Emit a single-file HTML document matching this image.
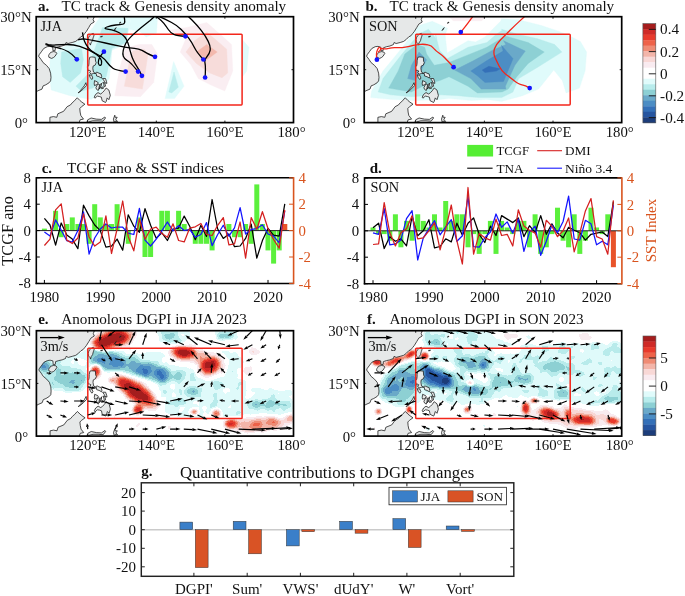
<!DOCTYPE html><html><head><meta charset="utf-8"><title>figure</title>
<style>html,body{margin:0;padding:0;background:#fff}svg{display:block}text{font-family:"Liberation Serif",serif}</style></head><body>
<svg width="685" height="596" viewBox="0 0 685 596">
<g opacity="0.999"><rect width="685" height="596" fill="#fff"/>
<defs>
<filter id="Fe" filterUnits="userSpaceOnUse" x="0" y="300" width="685" height="170" color-interpolation-filters="sRGB"><feGaussianBlur in="SourceGraphic" stdDeviation="1.5" result="b"/><feTurbulence type="fractalNoise" baseFrequency="0.09" numOctaves="2" seed="4" result="n"/><feColorMatrix in="n" type="matrix" values="1 0 0 0 0 1 0 0 0 0 1 0 0 0 0 0 0 0 0 1" result="ng"/><feComposite in="b" in2="ng" operator="arithmetic" k1="0" k2="1" k3="0.17" k4="-0.085" result="s"/><feComponentTransfer in="s"><feFuncR type="discrete" tableValues="0.110 0.149 0.204 0.298 0.416 0.553 0.722 0.878 1.000 1.000 0.976 0.973 0.953 0.937 0.933 0.910 0.812 0.647"/><feFuncG type="discrete" tableValues="0.239 0.333 0.439 0.553 0.663 0.816 0.925 0.984 1.000 1.000 0.922 0.847 0.710 0.549 0.384 0.227 0.165 0.114"/><feFuncB type="discrete" tableValues="0.478 0.627 0.722 0.769 0.788 0.831 0.925 0.984 1.000 1.000 0.941 0.839 0.663 0.459 0.286 0.173 0.153 0.114"/><feFuncA type="linear" slope="0" intercept="1"/></feComponentTransfer></filter>
<filter id="Ff" filterUnits="userSpaceOnUse" x="0" y="300" width="685" height="170" color-interpolation-filters="sRGB"><feGaussianBlur in="SourceGraphic" stdDeviation="1.5" result="b"/><feTurbulence type="fractalNoise" baseFrequency="0.09" numOctaves="2" seed="11" result="n"/><feColorMatrix in="n" type="matrix" values="1 0 0 0 0 1 0 0 0 0 1 0 0 0 0 0 0 0 0 1" result="ng"/><feComposite in="b" in2="ng" operator="arithmetic" k1="0" k2="1" k3="0.17" k4="-0.085" result="s"/><feComponentTransfer in="s"><feFuncR type="discrete" tableValues="0.110 0.149 0.204 0.298 0.416 0.553 0.722 0.878 1.000 1.000 0.976 0.973 0.953 0.937 0.933 0.910 0.812 0.647"/><feFuncG type="discrete" tableValues="0.239 0.333 0.439 0.553 0.663 0.816 0.925 0.984 1.000 1.000 0.922 0.847 0.710 0.549 0.384 0.227 0.165 0.114"/><feFuncB type="discrete" tableValues="0.478 0.627 0.722 0.769 0.788 0.831 0.925 0.984 1.000 1.000 0.941 0.839 0.663 0.459 0.286 0.173 0.153 0.114"/><feFuncA type="linear" slope="0" intercept="1"/></feComponentTransfer></filter>
<radialGradient id="gw"><stop offset="0" stop-color="#fff" stop-opacity="1"/><stop offset="0.5" stop-color="#fff" stop-opacity="0.78"/><stop offset="0.8" stop-color="#fff" stop-opacity="0.32"/><stop offset="1" stop-color="#fff" stop-opacity="0"/></radialGradient>
<radialGradient id="gk"><stop offset="0" stop-color="#000" stop-opacity="1"/><stop offset="0.5" stop-color="#000" stop-opacity="0.78"/><stop offset="0.8" stop-color="#000" stop-opacity="0.32"/><stop offset="1" stop-color="#000" stop-opacity="0"/></radialGradient>
<radialGradient id="gg"><stop offset="0" stop-color="#808080" stop-opacity="1"/><stop offset="0.5" stop-color="#808080" stop-opacity="0.78"/><stop offset="0.8" stop-color="#808080" stop-opacity="0.32"/><stop offset="1" stop-color="#808080" stop-opacity="0"/></radialGradient>
</defs>
<clipPath id="clipa"><rect x="36.2" y="16.7" width="257.3" height="105.9"/></clipPath>
<g clip-path="url(#clipa)">
<path d="M99.6 17.5 L130.9 17.5 L129.0 29.3 L125.2 44.5 L111.9 50.2 L111.0 63.4 L109.1 78.6 L100.5 93.8 L91.0 99.5 L70.2 95.7 L51.2 90.0 L49.3 72.9 L50.2 57.8 L60.7 48.3 L83.4 38.8 L92.9 27.4Z" fill="#e0fbfb" stroke="#e0fbfb" stroke-width="0.4" stroke-linejoin="round"/>
<path d="M130.9 17.5 L157.5 17.5 L156.5 33.1 L146.1 36.9 L139.4 31.2 L129.0 29.3Z" fill="#e0fbfb" stroke="#e0fbfb" stroke-width="0.4" stroke-linejoin="round"/>
<path d="M61.6 52.1 L81.5 48.3 L83.4 59.7 L80.6 72.9 L70.2 82.4 L62.6 76.7 L60.7 63.4Z" fill="#b8ecec" stroke="#b8ecec" stroke-width="0.4" stroke-linejoin="round"/>
<path d="M102.4 27.4 L128.0 28.3 L126.1 42.6 L111.9 48.3 L109.1 63.4 L106.2 76.7 L92.9 88.1 L81.5 91.0 L75.9 86.2 L89.1 72.9 L92.9 54.0 L98.6 38.8Z" fill="#b8ecec" stroke="#b8ecec" stroke-width="0.4" stroke-linejoin="round"/>
<path d="M114.8 95.7 L119.5 69.1 L125.2 48.3 L138.5 44.5 L151.8 44.5 L157.5 54.0 L153.7 82.4 L140.4 96.7Z" fill="#faeef2" stroke="#faeef2" stroke-width="0.4" stroke-linejoin="round"/>
<path d="M124.3 86.2 L129.0 63.4 L132.8 51.1 L144.2 49.2 L148.0 54.0 L145.1 72.9 L142.3 89.1Z" fill="#f7dcda" stroke="#f7dcda" stroke-width="0.4" stroke-linejoin="round"/>
<path d="M165.1 98.6 L173.6 61.5 L184.0 86.2 L174.5 98.6Z" fill="#e0fbfb" stroke="#e0fbfb" stroke-width="0.4" stroke-linejoin="round"/>
<path d="M168.8 91.9 L174.0 72.0 L178.3 87.2 L171.7 92.9Z" fill="#b8ecec" stroke="#b8ecec" stroke-width="0.4" stroke-linejoin="round"/>
<path d="M169.8 30.2 L186.9 27.4 L206.8 22.6 L221.0 35.0 L231.5 44.5 L232.8 71.0 L224.8 91.0 L211.5 85.3 L198.3 78.6 L190.7 64.4 L180.2 52.1 L185.9 38.8Z" fill="#faeef2" stroke="#faeef2" stroke-width="0.4" stroke-linejoin="round"/>
<path d="M185.9 52.1 L194.5 40.7 L206.8 32.1 L226.7 49.2 L227.7 72.9 L222.0 77.7 L209.7 72.9 L196.4 63.4Z" fill="#f7dcda" stroke="#f7dcda" stroke-width="0.4" stroke-linejoin="round"/>
<path d="M196.4 52.1 L206.8 44.5 L217.2 52.1 L206.8 59.7Z" fill="#f3b9ad" stroke="#f3b9ad" stroke-width="0.4" stroke-linejoin="round"/>
<path d="M242.5 39.7 L248.9 47.3 L246.7 71.0 L242.5 76.7Z" fill="#e0fbfb" stroke="#e0fbfb" stroke-width="0.4" stroke-linejoin="round"/>
<path d="M19.0 9.6 L95.2 9.6 L94.2 13.5 L90.7 15.6 L94.2 17.1 L93.1 19.5 L94.2 22.0 L90.7 24.1 L88.7 27.6 L86.3 31.5 L84.6 33.6 L82.9 35.8 L80.8 36.8 L78.4 39.3 L75.7 41.4 L72.2 42.5 L68.1 43.5 L66.0 42.5 L65.4 44.6 L61.9 46.0 L58.5 46.7 L55.4 47.8 L55.1 50.6 L53.0 50.9 L52.7 47.1 L49.9 46.4 L47.2 46.7 L43.7 48.5 L41.7 51.3 L39.3 54.5 L38.6 56.2 L41.0 59.4 L43.1 62.6 L46.5 65.4 L49.2 68.6 L50.6 73.2 L51.0 77.4 L50.6 80.9 L49.2 82.7 L45.8 84.8 L43.1 85.9 L42.0 89.1 L37.9 90.8 L35.5 92.2 L35.9 89.1 L36.2 86.6 L34.5 85.9 L19.0 85.5Z" fill="#e6e8e8" stroke="#151515" stroke-width="0.75" stroke-linejoin="round"/>
<path d="M48.9 54.8 L50.6 52.4 L53.4 51.6 L55.8 52.0 L56.8 53.4 L55.1 56.2 L53.4 57.6 L51.6 58.4 L48.9 57.3 L48.6 55.5Z" fill="#e6e8e8" stroke="#151515" stroke-width="0.75" stroke-linejoin="round"/>
<path d="M91.1 34.3 L93.1 33.3 L94.2 34.3 L93.8 36.1 L93.1 37.9 L92.5 40.7 L91.1 42.8 L90.4 45.1 L89.7 43.5 L88.3 42.1 L88.0 39.6 L88.7 37.2 L90.1 35.4Z" fill="#e6e8e8" stroke="#151515" stroke-width="0.75" stroke-linejoin="round"/>
<path d="M89.7 57.3 L91.8 56.9 L95.2 57.3 L95.6 61.2 L96.2 62.6 L95.2 65.1 L93.1 66.1 L92.8 68.6 L93.5 72.1 L95.2 73.2 L96.9 72.1 L99.0 73.2 L101.0 73.9 L101.7 76.7 L101.4 78.1 L99.0 76.7 L96.6 76.0 L96.2 73.5 L93.5 73.5 L91.1 74.2 L89.7 72.5 L90.7 71.1 L89.4 70.4 L88.0 70.4 L87.3 66.8 L88.7 65.8 L89.0 62.9 L89.0 60.8Z" fill="#e6e8e8" stroke="#151515" stroke-width="0.75" stroke-linejoin="round"/>
<path d="M89.0 74.9 L91.8 75.3 L92.8 78.1 L91.8 79.5 L90.4 77.8Z" fill="#e6e8e8" stroke="#151515" stroke-width="0.75" stroke-linejoin="round"/>
<path d="M102.4 78.5 L105.5 78.5 L106.5 81.7 L106.9 83.4 L104.8 82.7 L104.1 80.9Z" fill="#e6e8e8" stroke="#151515" stroke-width="0.75" stroke-linejoin="round"/>
<path d="M102.8 82.4 L104.8 83.1 L105.5 86.2 L104.1 86.9 L103.8 84.5Z" fill="#e6e8e8" stroke="#151515" stroke-width="0.75" stroke-linejoin="round"/>
<path d="M94.5 80.6 L97.6 82.0 L98.3 83.1 L96.6 84.8 L94.5 85.5 L94.2 83.8Z" fill="#e6e8e8" stroke="#151515" stroke-width="0.75" stroke-linejoin="round"/>
<path d="M97.6 84.1 L99.7 84.5 L99.0 87.7 L98.3 90.5 L96.6 89.4 L95.9 87.7Z" fill="#e6e8e8" stroke="#151515" stroke-width="0.75" stroke-linejoin="round"/>
<path d="M101.4 83.1 L101.4 85.5 L99.3 89.1 L100.0 85.9Z" fill="#e6e8e8" stroke="#151515" stroke-width="0.75" stroke-linejoin="round"/>
<path d="M100.7 87.7 L103.1 86.9 L103.4 88.4 L101.4 88.7Z" fill="#e6e8e8" stroke="#151515" stroke-width="0.75" stroke-linejoin="round"/>
<path d="M78.1 92.9 L80.8 90.1 L84.2 85.9 L85.9 82.7 L86.6 85.5 L83.5 88.7 L80.1 91.9Z" fill="#e6e8e8" stroke="#151515" stroke-width="0.75" stroke-linejoin="round"/>
<path d="M106.2 88.0 L108.9 90.1 L110.3 95.4 L108.9 99.7 L107.2 97.9 L106.2 101.4 L105.5 102.5 L102.1 100.7 L101.4 97.2 L99.3 96.5 L97.3 96.1 L94.9 98.2 L94.2 97.2 L95.6 94.4 L98.0 92.6 L100.7 94.0 L102.4 92.6 L104.1 90.8Z" fill="#e6e8e8" stroke="#151515" stroke-width="0.75" stroke-linejoin="round"/>
<path d="M77.4 97.9 L79.8 100.4 L81.8 102.1 L84.9 104.2 L81.5 106.7 L79.8 108.5 L80.1 112.0 L80.8 115.5 L83.5 119.1 L80.1 119.8 L79.1 122.6 L79.1 129.7 L49.9 129.7 L49.9 122.6 L49.9 117.3 L53.4 116.6 L56.8 117.3 L57.8 113.8 L63.6 111.3 L67.1 106.7 L70.5 104.9 L72.2 102.8 L74.6 100.7 L76.7 98.2Z" fill="#e6e8e8" stroke="#151515" stroke-width="0.75" stroke-linejoin="round"/>
<path d="M87.7 119.8 L91.1 118.0 L96.2 119.1 L101.4 119.4 L104.8 117.0 L105.5 118.0 L103.1 121.2 L98.0 120.8 L92.8 120.8 L88.7 121.9 L87.7 129.7 L86.3 129.7 L87.0 121.9Z" fill="#e6e8e8" stroke="#151515" stroke-width="0.75" stroke-linejoin="round"/>
<path d="M113.4 119.1 L114.8 115.2 L115.1 117.3 L117.2 117.3 L115.8 119.4 L117.5 121.5 L114.8 121.2 L114.8 124.4 L113.7 120.8Z" fill="#e6e8e8" stroke="#151515" stroke-width="0.75" stroke-linejoin="round"/>
<path d="M114.1 30.5 L115.1 29.4 L116.1 27.6 L115.1 28.7Z" fill="#e6e8e8" stroke="#151515" stroke-width="0.75" stroke-linejoin="round"/>
<path d="M119.2 23.1 L120.9 22.0 L120.3 23.1Z" fill="#e6e8e8" stroke="#151515" stroke-width="0.75" stroke-linejoin="round"/>
<path d="M100.4 36.8 L102.4 36.1 L102.1 36.8Z" fill="#e6e8e8" stroke="#151515" stroke-width="0.75" stroke-linejoin="round"/>
<path d="M19.0 99.7 L26.9 100.7 L30.7 105.7 L31.1 112.0 L33.5 117.3 L32.8 118.4 L19.0 118.4Z" fill="#e6e8e8" stroke="#151515" stroke-width="0.75" stroke-linejoin="round"/>
<path d="M19.0 119.1 L25.9 119.1 L31.1 121.5 L32.8 125.4 L34.5 129.7 L19.0 129.7Z" fill="#e6e8e8" stroke="#151515" stroke-width="0.75" stroke-linejoin="round"/>
</g>
<rect x="87.7" y="34.3" width="154.4" height="70.6" fill="none" stroke="#f3261b" stroke-width="1.5" rx="0.8"/>
<g clip-path="url(#clipa)">
<path d="M76.8 59.3 Q72.1 54.0 68.3 51.8 Q64.5 49.6 60.7 48.5 Q56.9 47.5 54.0 46.9 Q51.2 46.4 48.3 45.4 L45.5 44.5" fill="none" stroke="#000" stroke-width="1.3" stroke-linejoin="round"/>
<path d="M103.9 51.7 Q99.6 56.8 98.6 60.1 Q97.7 63.4 99.1 64.9 Q100.5 66.3 101.5 63.9 Q102.4 61.5 100.5 58.7 Q98.6 55.9 95.8 54.0 Q92.9 52.1 89.1 50.2 Q85.3 48.3 79.7 46.4 Q74.0 44.5 67.3 44.5 Q60.7 44.5 55.9 44.9 Q51.2 45.4 48.3 44.6 L45.5 43.7" fill="none" stroke="#000" stroke-width="1.3" stroke-linejoin="round"/>
<path d="M125.6 71.6 Q115.7 70.1 112.9 68.2 Q110.0 66.3 107.2 62.5 Q104.3 58.7 101.5 56.8 Q98.6 54.9 94.8 53.0 Q91.0 51.1 88.4 47.8 Q85.7 44.5 84.6 41.6 Q83.4 38.8 83.0 35.5 L82.5 32.3" fill="none" stroke="#000" stroke-width="1.3" stroke-linejoin="round"/>
<path d="M155.0 56.8 Q148.0 54.0 145.1 52.1 Q142.3 50.2 138.5 49.2 Q134.7 48.3 129.9 47.8 Q125.2 47.3 118.6 45.9 Q111.9 44.5 105.3 43.0 Q98.6 41.6 93.9 40.7 Q89.1 39.7 85.3 39.2 Q81.5 38.8 79.8 39.3 L78.1 39.9" fill="none" stroke="#000" stroke-width="1.3" stroke-linejoin="round"/>
<path d="M138.1 71.6 Q133.7 66.3 131.4 63.9 Q129.0 61.5 126.6 60.1 Q124.3 58.7 123.3 56.3 Q122.4 54.0 123.3 50.2 Q124.3 46.4 125.7 43.5 Q127.1 40.7 131.8 35.9 Q136.6 31.2 141.3 27.4 Q146.1 23.6 150.1 20.4 L154.0 17.1" fill="none" stroke="#000" stroke-width="1.3" stroke-linejoin="round"/>
<path d="M141.9 75.8 Q139.4 70.1 137.1 66.8 Q134.7 63.4 133.3 60.1 Q131.8 56.8 130.9 53.5 Q129.9 50.2 129.0 46.4 Q128.0 42.6 126.6 39.7 Q125.2 36.9 122.4 34.8 Q119.5 32.7 115.7 31.2 Q111.9 29.7 107.4 29.1 Q102.8 28.5 106.9 27.0 Q111.0 25.5 115.7 25.0 Q120.5 24.5 122.8 24.1 Q125.2 23.6 124.7 20.4 L124.3 17.1" fill="none" stroke="#000" stroke-width="1.3" stroke-linejoin="round"/>
<path d="M185.4 36.3 Q177.1 35.9 173.8 34.4 Q170.5 32.8 168.3 29.5 Q166.1 26.3 163.9 23.4 Q161.7 20.6 158.5 18.2 L155.2 15.8" fill="none" stroke="#000" stroke-width="1.3" stroke-linejoin="round"/>
<path d="M203.4 59.5 Q196.8 52.5 194.4 47.5 Q192.0 42.5 188.7 38.1 Q185.4 33.7 181.2 29.5 Q177.1 25.4 171.6 22.5 Q166.1 19.7 161.7 17.7 L157.4 15.8" fill="none" stroke="#000" stroke-width="1.3" stroke-linejoin="round"/>
<path d="M205.1 77.5 Q205.8 66.6 205.0 63.0 Q204.2 59.5 206.9 56.7 Q209.5 53.9 210.1 50.3 Q210.8 46.8 208.2 41.4 Q205.5 35.9 201.2 30.4 Q196.8 24.9 192.2 20.3 L187.6 15.8" fill="none" stroke="#000" stroke-width="1.3" stroke-linejoin="round"/>
<circle cx="76.8" cy="59.3" r="2.35" fill="#1414ff"/>
<circle cx="103.9" cy="51.7" r="2.35" fill="#1414ff"/>
<circle cx="125.6" cy="71.6" r="2.35" fill="#1414ff"/>
<circle cx="138.1" cy="71.6" r="2.35" fill="#1414ff"/>
<circle cx="141.9" cy="75.8" r="2.35" fill="#1414ff"/>
<circle cx="155.0" cy="56.8" r="2.35" fill="#1414ff"/>
<circle cx="185.4" cy="36.3" r="2.35" fill="#1414ff"/>
<circle cx="203.4" cy="59.5" r="2.35" fill="#1414ff"/>
<circle cx="205.1" cy="77.5" r="2.35" fill="#1414ff"/>
</g>
<rect x="36.2" y="16.7" width="257.3" height="105.9" fill="none" stroke="#000" stroke-width="1.7"/>
<path d="M87.7 122.6 v-2 M87.7 16.7 v2" stroke="#000" stroke-width="0.9"/>
<path d="M156.3 122.6 v-2 M156.3 16.7 v2" stroke="#000" stroke-width="0.9"/>
<path d="M224.9 122.6 v-2 M224.9 16.7 v2" stroke="#000" stroke-width="0.9"/>
<path d="M36.2 69.7 h2 M293.5 69.7 h-2" stroke="#000" stroke-width="0.9"/>
<text x="87.7" y="136.9" font-size="14.8" text-anchor="middle" fill="#111" >120°E</text>
<text x="156.3" y="136.9" font-size="14.8" text-anchor="middle" fill="#111" >140°E</text>
<text x="224.9" y="136.9" font-size="14.8" text-anchor="middle" fill="#111" >160°E</text>
<text x="291.5" y="136.9" font-size="14.8" text-anchor="middle" fill="#111" >180°</text>
<text x="31.6" y="22.2" font-size="14.8" text-anchor="end" fill="#111" >30°N</text>
<text x="31.6" y="75.2" font-size="14.8" text-anchor="end" fill="#111" >15°N</text>
<text x="28.0" y="128.1" font-size="14.8" text-anchor="end" fill="#111" >0°</text>
<clipPath id="clipb"><rect x="364.2" y="16.7" width="257.5" height="105.9"/></clipPath>
<g clip-path="url(#clipb)">
<path d="M370.6 97.6 L371.6 91.0 L383.0 71.0 L400.1 50.2 L419.0 25.5 L432.3 21.3 L447.5 28.3 L445.2 35.0 L447.1 53.0 L468.0 40.7 L475.5 42.0 L485.0 36.9 L493.6 28.3 L500.6 21.3 L501.6 18.8 L518.7 19.8 L541.4 25.5 L558.5 31.2 L569.9 35.9 L580.4 41.6 L586.6 52.1 L585.1 71.0 L579.4 88.1 L566.1 92.9 L562.3 80.5 L553.8 70.1 L538.6 89.1 L522.5 95.7 L501.6 101.4 L486.9 99.5 L471.8 100.5 L449.0 98.6 L439.9 99.5 L415.2 100.5 L392.5 99.5Z" fill="#e0fbfb" stroke="#e0fbfb" stroke-width="0.4" stroke-linejoin="round"/>
<path d="M378.2 91.9 L383.0 78.6 L402.0 54.0 L419.0 34.0 L428.5 29.3 L436.1 38.8 L435.7 35.0 L439.5 50.2 L447.1 58.7 L468.0 47.3 L486.9 42.6 L495.5 35.0 L502.1 30.2 L501.6 29.3 L516.8 34.0 L537.7 38.8 L554.7 44.5 L561.9 52.1 L537.7 67.2 L518.7 78.6 L513.0 91.9 L501.6 97.6 L479.3 97.6 L468.0 96.7 L458.9 95.7 L439.9 94.8 L411.4 96.7 L390.6 94.8Z" fill="#b8ecec" stroke="#b8ecec" stroke-width="0.4" stroke-linejoin="round"/>
<path d="M388.7 88.1 L398.2 71.0 L404.8 54.0 L417.1 44.5 L424.7 47.3 L426.6 54.0 L434.2 65.3 L449.0 62.5 L468.0 54.9 L486.9 47.3 L501.2 38.4 L505.4 35.9 L528.2 42.6 L544.3 52.1 L528.2 63.4 L516.8 76.7 L508.2 89.1 L502.1 91.9 L477.4 92.9 L468.0 86.2 L449.0 76.7 L439.9 80.5 L426.6 84.3 L411.4 91.9Z" fill="#8dd0d4" stroke="#8dd0d4" stroke-width="0.4" stroke-linejoin="round"/>
<path d="M407.7 78.6 L411.4 65.3 L419.0 52.1 L426.6 59.7 L420.9 71.0 L415.2 80.5Z" fill="#6aa9c9" stroke="#6aa9c9" stroke-width="0.4" stroke-linejoin="round"/>
<path d="M454.7 70.1 L473.7 60.6 L492.6 50.2 L505.9 44.5 L503.5 40.7 L525.3 51.1 L514.9 65.3 L505.4 86.2 L505.9 89.1 L481.2 89.1 L470.8 78.6Z" fill="#6aa9c9" stroke="#6aa9c9" stroke-width="0.4" stroke-linejoin="round"/>
<path d="M470.8 71.0 L486.9 60.6 L503.1 51.1 L501.6 45.4 L513.0 58.7 L503.5 81.5 L485.0 82.4 L477.4 75.8Z" fill="#4c8dc4" stroke="#4c8dc4" stroke-width="0.4" stroke-linejoin="round"/>
<path d="M482.2 70.1 L488.8 66.3 L500.2 68.8 L496.4 71.0 L485.0 72.6Z" fill="#3470b8" stroke="#3470b8" stroke-width="0.4" stroke-linejoin="round"/>
<path d="M449.4 17.1 L485.5 17.1 L481.7 20.7 L453.2 20.7Z" fill="#faeef2" stroke="#faeef2" stroke-width="0.4" stroke-linejoin="round"/>
<path d="M347.0 9.6 L423.3 9.6 L422.2 13.5 L418.8 15.6 L422.2 17.1 L421.2 19.5 L422.2 22.0 L418.8 24.1 L416.7 27.6 L414.3 31.5 L412.6 33.6 L410.9 35.8 L408.8 36.8 L406.4 39.3 L403.7 41.4 L400.2 42.5 L396.1 43.5 L394.1 42.5 L393.4 44.6 L389.9 46.0 L386.5 46.7 L383.4 47.8 L383.1 50.6 L381.0 50.9 L380.7 47.1 L377.9 46.4 L375.2 46.7 L371.8 48.5 L369.7 51.3 L367.3 54.5 L366.6 56.2 L369.0 59.4 L371.1 62.6 L374.5 65.4 L377.2 68.6 L378.6 73.2 L379.0 77.4 L378.6 80.9 L377.2 82.7 L373.8 84.8 L371.1 85.9 L370.0 89.1 L365.9 90.8 L363.5 92.2 L363.9 89.1 L364.2 86.6 L362.5 85.9 L347.0 85.5Z" fill="#e6e8e8" stroke="#151515" stroke-width="0.75" stroke-linejoin="round"/>
<path d="M376.9 54.8 L378.6 52.4 L381.4 51.6 L383.8 52.0 L384.8 53.4 L383.1 56.2 L381.4 57.6 L379.6 58.4 L376.9 57.3 L376.6 55.5Z" fill="#e6e8e8" stroke="#151515" stroke-width="0.75" stroke-linejoin="round"/>
<path d="M419.1 34.3 L421.2 33.3 L422.2 34.3 L421.9 36.1 L421.2 37.9 L420.5 40.7 L419.1 42.8 L418.4 45.1 L417.8 43.5 L416.4 42.1 L416.0 39.6 L416.7 37.2 L418.1 35.4Z" fill="#e6e8e8" stroke="#151515" stroke-width="0.75" stroke-linejoin="round"/>
<path d="M417.8 57.3 L419.8 56.9 L423.3 57.3 L423.6 61.2 L424.3 62.6 L423.3 65.1 L421.2 66.1 L420.9 68.6 L421.5 72.1 L423.3 73.2 L425.0 72.1 L427.0 73.2 L429.1 73.9 L429.8 76.7 L429.4 78.1 L427.0 76.7 L424.6 76.0 L424.3 73.5 L421.5 73.5 L419.1 74.2 L417.8 72.5 L418.8 71.1 L417.4 70.4 L416.0 70.4 L415.4 66.8 L416.7 65.8 L417.1 62.9 L417.1 60.8Z" fill="#e6e8e8" stroke="#151515" stroke-width="0.75" stroke-linejoin="round"/>
<path d="M417.1 74.9 L419.8 75.3 L420.9 78.1 L419.8 79.5 L418.4 77.8Z" fill="#e6e8e8" stroke="#151515" stroke-width="0.75" stroke-linejoin="round"/>
<path d="M430.5 78.5 L433.6 78.5 L434.6 81.7 L434.9 83.4 L432.9 82.7 L432.2 80.9Z" fill="#e6e8e8" stroke="#151515" stroke-width="0.75" stroke-linejoin="round"/>
<path d="M430.8 82.4 L432.9 83.1 L433.6 86.2 L432.2 86.9 L431.8 84.5Z" fill="#e6e8e8" stroke="#151515" stroke-width="0.75" stroke-linejoin="round"/>
<path d="M422.6 80.6 L425.7 82.0 L426.3 83.1 L424.6 84.8 L422.6 85.5 L422.2 83.8Z" fill="#e6e8e8" stroke="#151515" stroke-width="0.75" stroke-linejoin="round"/>
<path d="M425.7 84.1 L427.7 84.5 L427.0 87.7 L426.3 90.5 L424.6 89.4 L423.9 87.7Z" fill="#e6e8e8" stroke="#151515" stroke-width="0.75" stroke-linejoin="round"/>
<path d="M429.4 83.1 L429.4 85.5 L427.4 89.1 L428.1 85.9Z" fill="#e6e8e8" stroke="#151515" stroke-width="0.75" stroke-linejoin="round"/>
<path d="M428.7 87.7 L431.1 86.9 L431.5 88.4 L429.4 88.7Z" fill="#e6e8e8" stroke="#151515" stroke-width="0.75" stroke-linejoin="round"/>
<path d="M406.1 92.9 L408.8 90.1 L412.3 85.9 L414.0 82.7 L414.7 85.5 L411.6 88.7 L408.1 91.9Z" fill="#e6e8e8" stroke="#151515" stroke-width="0.75" stroke-linejoin="round"/>
<path d="M434.2 88.0 L437.0 90.1 L438.4 95.4 L437.0 99.7 L435.3 97.9 L434.2 101.4 L433.6 102.5 L430.1 100.7 L429.4 97.2 L427.4 96.5 L425.3 96.1 L422.9 98.2 L422.2 97.2 L423.6 94.4 L426.0 92.6 L428.7 94.0 L430.5 92.6 L432.2 90.8Z" fill="#e6e8e8" stroke="#151515" stroke-width="0.75" stroke-linejoin="round"/>
<path d="M405.4 97.9 L407.8 100.4 L409.9 102.1 L413.0 104.2 L409.5 106.7 L407.8 108.5 L408.1 112.0 L408.8 115.5 L411.6 119.1 L408.1 119.8 L407.1 122.6 L407.1 129.7 L377.9 129.7 L377.9 122.6 L377.9 117.3 L381.4 116.6 L384.8 117.3 L385.8 113.8 L391.7 111.3 L395.1 106.7 L398.5 104.9 L400.2 102.8 L402.7 100.7 L404.7 98.2Z" fill="#e6e8e8" stroke="#151515" stroke-width="0.75" stroke-linejoin="round"/>
<path d="M415.7 119.8 L419.1 118.0 L424.3 119.1 L429.4 119.4 L432.9 117.0 L433.6 118.0 L431.1 121.2 L426.0 120.8 L420.9 120.8 L416.7 121.9 L415.7 129.7 L414.3 129.7 L415.0 121.9Z" fill="#e6e8e8" stroke="#151515" stroke-width="0.75" stroke-linejoin="round"/>
<path d="M441.5 119.1 L442.8 115.2 L443.2 117.3 L445.2 117.3 L443.9 119.4 L445.6 121.5 L442.8 121.2 L442.8 124.4 L441.8 120.8Z" fill="#e6e8e8" stroke="#151515" stroke-width="0.75" stroke-linejoin="round"/>
<path d="M442.1 30.5 L443.2 29.4 L444.2 27.6 L443.2 28.7Z" fill="#e6e8e8" stroke="#151515" stroke-width="0.75" stroke-linejoin="round"/>
<path d="M447.3 23.1 L449.0 22.0 L448.3 23.1Z" fill="#e6e8e8" stroke="#151515" stroke-width="0.75" stroke-linejoin="round"/>
<path d="M428.4 36.8 L430.5 36.1 L430.1 36.8Z" fill="#e6e8e8" stroke="#151515" stroke-width="0.75" stroke-linejoin="round"/>
<path d="M347.0 99.7 L354.9 100.7 L358.7 105.7 L359.1 112.0 L361.5 117.3 L360.8 118.4 L347.0 118.4Z" fill="#e6e8e8" stroke="#151515" stroke-width="0.75" stroke-linejoin="round"/>
<path d="M347.0 119.1 L353.9 119.1 L359.1 121.5 L360.8 125.4 L362.5 129.7 L347.0 129.7Z" fill="#e6e8e8" stroke="#151515" stroke-width="0.75" stroke-linejoin="round"/>
</g>
<rect x="415.7" y="34.3" width="154.5" height="70.6" fill="none" stroke="#f3261b" stroke-width="1.5" rx="0.8"/>
<g clip-path="url(#clipb)">
<path d="M376.9 59.7 Q375.8 53.0 377.5 49.7 Q379.2 46.4 380.3 47.8 Q381.5 49.2 379.8 50.6 L378.2 52.1" fill="none" stroke="#f3261b" stroke-width="1.3" stroke-linejoin="round"/>
<path d="M453.6 67.2 Q447.5 60.6 444.7 57.8 Q441.8 54.9 439.0 53.0 Q436.1 51.1 433.7 48.3 Q431.4 45.4 428.1 44.8 Q424.7 44.1 420.9 44.3 Q417.1 44.5 413.3 45.4 Q409.5 46.4 405.3 47.1 Q401.0 47.9 396.7 47.6 Q392.5 47.3 388.7 48.3 Q384.9 49.2 382.8 48.7 L380.7 48.3" fill="none" stroke="#f3261b" stroke-width="1.3" stroke-linejoin="round"/>
<path d="M460.8 32.1 Q465.5 26.4 467.9 23.1 Q470.3 19.8 471.4 18.3 L472.6 16.8" fill="none" stroke="#f3261b" stroke-width="1.3" stroke-linejoin="round"/>
<path d="M529.7 88.1 Q525.3 85.3 522.0 84.8 Q518.7 84.3 513.9 80.5 Q509.2 76.7 505.4 73.9 Q501.6 71.0 499.2 66.3 Q496.8 61.5 494.9 57.3 Q493.1 53.0 494.5 48.7 Q495.9 44.5 500.6 39.7 Q505.4 35.0 510.1 30.2 Q514.9 25.5 519.6 21.1 L524.4 16.8" fill="none" stroke="#f3261b" stroke-width="1.3" stroke-linejoin="round"/>
<circle cx="376.9" cy="59.7" r="2.35" fill="#1414ff"/>
<circle cx="453.6" cy="67.2" r="2.35" fill="#1414ff"/>
<circle cx="460.8" cy="32.1" r="2.35" fill="#1414ff"/>
<circle cx="529.7" cy="88.1" r="2.35" fill="#1414ff"/>
</g>
<rect x="364.2" y="16.7" width="257.5" height="105.9" fill="none" stroke="#000" stroke-width="1.7"/>
<path d="M415.7 122.6 v-2 M415.7 16.7 v2" stroke="#000" stroke-width="0.9"/>
<path d="M484.4 122.6 v-2 M484.4 16.7 v2" stroke="#000" stroke-width="0.9"/>
<path d="M553.0 122.6 v-2 M553.0 16.7 v2" stroke="#000" stroke-width="0.9"/>
<path d="M364.2 69.7 h2 M621.7 69.7 h-2" stroke="#000" stroke-width="0.9"/>
<text x="415.7" y="136.9" font-size="14.8" text-anchor="middle" fill="#111" >120°E</text>
<text x="484.4" y="136.9" font-size="14.8" text-anchor="middle" fill="#111" >140°E</text>
<text x="553.0" y="136.9" font-size="14.8" text-anchor="middle" fill="#111" >160°E</text>
<text x="619.7" y="136.9" font-size="14.8" text-anchor="middle" fill="#111" >180°</text>
<text x="359.6" y="22.2" font-size="14.8" text-anchor="end" fill="#111" >30°N</text>
<text x="359.6" y="75.2" font-size="14.8" text-anchor="end" fill="#111" >15°N</text>
<text x="356.0" y="128.1" font-size="14.8" text-anchor="end" fill="#111" >0°</text>
<clipPath id="clipe"><rect x="36.4" y="330.7" width="257.1" height="105.4"/></clipPath>
<g clip-path="url(#clipe)">
<g filter="url(#Fe)">
<rect x="6.399999999999999" y="300.7" width="317.1" height="165.4" fill="#808080"/>
<path d="M36.4 357.8 L53.5 359.5 L74.1 355.3 L87.8 347.6 L101.5 350.0 L122.1 351.1 L142.7 353.5 L159.8 351.8 L176.9 358.8 L190.7 364.1 L197.5 376.4 L211.2 379.9 L224.9 374.6 L228.4 358.8 L218.1 350.0 L235.2 350.0 L242.1 358.8 L245.5 386.9 L266.1 388.7 L293.5 390.4 L293.5 413.3 L266.1 415.0 L242.1 415.0 L224.9 418.5 L200.9 418.5 L176.9 416.8 L163.2 411.5 L166.7 401.0 L159.8 386.9 L146.1 378.1 L132.4 372.9 L118.7 369.3 L105.0 371.1 L96.4 364.1 L87.8 374.6 L81.0 390.4 L67.3 393.9 L53.5 390.4 L43.3 381.6 L36.4 372.9Z" fill="rgb(106,106,106)"/>
<path d="M156.4 327.2 L158.1 341.2 L173.5 346.5 L187.2 341.2 L192.4 327.2Z" fill="rgb(105,105,105)"/>
<path d="M212.9 327.2 L218.1 337.7 L231.8 339.5 L238.7 327.2Z" fill="rgb(102,102,102)"/>
<ellipse cx="266.1" cy="404.5" rx="27.4" ry="6.0" transform="rotate(0 266.1 404.5)" fill="url(#gk)" opacity="0.289"/>
<ellipse cx="192.4" cy="390.4" rx="8.9" ry="6.3" transform="rotate(0 192.4 390.4)" fill="url(#gk)" opacity="0.289"/>
<ellipse cx="176.9" cy="402.7" rx="17.1" ry="4.2" transform="rotate(0 176.9 402.7)" fill="url(#gk)" opacity="0.244"/>
<ellipse cx="224.9" cy="336.0" rx="10.3" ry="5.3" transform="rotate(0 224.9 336.0)" fill="url(#gk)" opacity="0.267"/>
<ellipse cx="170.1" cy="336.0" rx="12.0" ry="7.0" transform="rotate(0 170.1 336.0)" fill="url(#gk)" opacity="0.267"/>
<ellipse cx="44.3" cy="365.8" rx="8.9" ry="7.7" transform="rotate(0 44.3 365.8)" fill="url(#gk)" opacity="0.556"/>
<ellipse cx="63.8" cy="378.1" rx="24.0" ry="14.8" transform="rotate(10 63.8 378.1)" fill="url(#gk)" opacity="0.267"/>
<ellipse cx="81.0" cy="381.6" rx="13.7" ry="13.4" transform="rotate(0 81.0 381.6)" fill="url(#gk)" opacity="0.200"/>
<ellipse cx="106.7" cy="360.6" rx="22.3" ry="13.4" transform="rotate(20 106.7 360.6)" fill="url(#gk)" opacity="0.489"/>
<ellipse cx="130.7" cy="366.5" rx="24.0" ry="12.6" transform="rotate(10 130.7 366.5)" fill="url(#gk)" opacity="0.422"/>
<ellipse cx="150.6" cy="371.5" rx="17.1" ry="11.9" transform="rotate(10 150.6 371.5)" fill="url(#gk)" opacity="0.489"/>
<ellipse cx="163.2" cy="375.3" rx="8.9" ry="9.8" transform="rotate(0 163.2 375.3)" fill="url(#gk)" opacity="0.600"/>
<ellipse cx="176.9" cy="376.4" rx="10.3" ry="7.0" transform="rotate(0 176.9 376.4)" fill="url(#gk)" opacity="0.289"/>
<ellipse cx="132.4" cy="392.2" rx="37.7" ry="15.8" transform="rotate(33 132.4 392.2)" fill="url(#gg)" opacity="1.000"/>
<ellipse cx="190.7" cy="358.8" rx="24.0" ry="12.3" transform="rotate(0 190.7 358.8)" fill="url(#gg)" opacity="1.000"/>
<ellipse cx="111.8" cy="401.0" rx="27.4" ry="14.1" transform="rotate(0 111.8 401.0)" fill="url(#gg)" opacity="1.000"/>
<ellipse cx="183.8" cy="353.5" rx="22.3" ry="11.9" transform="rotate(0 183.8 353.5)" fill="url(#gw)" opacity="0.244"/>
<ellipse cx="210.5" cy="365.8" rx="19.9" ry="15.5" transform="rotate(-10 210.5 365.8)" fill="url(#gw)" opacity="0.244"/>
<ellipse cx="202.7" cy="358.8" rx="22.3" ry="9.8" transform="rotate(25 202.7 358.8)" fill="url(#gw)" opacity="0.356"/>
<ellipse cx="113.5" cy="338.8" rx="25.7" ry="11.9" transform="rotate(-12 113.5 338.8)" fill="url(#gw)" opacity="1.000"/>
<ellipse cx="115.2" cy="337.7" rx="13.7" ry="6.3" transform="rotate(-12 115.2 337.7)" fill="url(#gw)" opacity="0.889"/>
<ellipse cx="102.2" cy="343.7" rx="11.0" ry="7.7" transform="rotate(0 102.2 343.7)" fill="url(#gw)" opacity="0.889"/>
<ellipse cx="95.7" cy="371.1" rx="6.5" ry="8.4" transform="rotate(0 95.7 371.1)" fill="url(#gw)" opacity="0.889"/>
<ellipse cx="136.5" cy="392.2" rx="30.2" ry="11.9" transform="rotate(35 136.5 392.2)" fill="url(#gw)" opacity="1.000"/>
<ellipse cx="137.9" cy="393.2" rx="17.1" ry="5.6" transform="rotate(35 137.9 393.2)" fill="url(#gw)" opacity="0.889"/>
<ellipse cx="112.2" cy="380.2" rx="4.5" ry="3.5" transform="rotate(0 112.2 380.2)" fill="url(#gw)" opacity="0.556"/>
<ellipse cx="123.8" cy="382.7" rx="10.3" ry="6.3" transform="rotate(30 123.8 382.7)" fill="url(#gw)" opacity="0.667"/>
<ellipse cx="137.9" cy="409.4" rx="6.5" ry="6.0" transform="rotate(0 137.9 409.4)" fill="url(#gw)" opacity="1.000"/>
<ellipse cx="183.8" cy="352.8" rx="15.1" ry="7.7" transform="rotate(5 183.8 352.8)" fill="url(#gw)" opacity="1.000"/>
<ellipse cx="210.5" cy="365.8" rx="12.3" ry="9.8" transform="rotate(-20 210.5 365.8)" fill="url(#gw)" opacity="1.000"/>
<ellipse cx="194.1" cy="411.9" rx="5.1" ry="4.2" transform="rotate(0 194.1 411.9)" fill="url(#gw)" opacity="0.778"/>
<ellipse cx="216.4" cy="413.3" rx="5.8" ry="6.0" transform="rotate(0 216.4 413.3)" fill="url(#gw)" opacity="0.667"/>
<ellipse cx="231.1" cy="423.5" rx="8.9" ry="6.0" transform="rotate(0 231.1 423.5)" fill="url(#gw)" opacity="0.833"/>
<ellipse cx="259.2" cy="424.2" rx="41.1" ry="9.1" transform="rotate(-4 259.2 424.2)" fill="url(#gw)" opacity="0.489"/>
<ellipse cx="258.1" cy="423.7" rx="6.9" ry="4.2" transform="rotate(0 258.1 423.7)" fill="url(#gw)" opacity="0.222"/>
<ellipse cx="274.4" cy="422.1" rx="6.9" ry="4.2" transform="rotate(0 274.4 422.1)" fill="url(#gw)" opacity="0.222"/>
<ellipse cx="290.8" cy="418.4" rx="5.1" ry="4.2" transform="rotate(0 290.8 418.4)" fill="url(#gw)" opacity="0.444"/>
<ellipse cx="257.5" cy="352.5" rx="12.0" ry="5.6" transform="rotate(0 257.5 352.5)" fill="url(#gw)" opacity="0.156"/>
<ellipse cx="248.9" cy="372.9" rx="13.7" ry="10.5" transform="rotate(0 248.9 372.9)" fill="url(#gw)" opacity="0.133"/>
</g>
<path d="M19.3 323.7 L95.4 323.7 L94.3 327.5 L90.9 329.6 L94.3 331.1 L93.3 333.5 L94.3 336.0 L90.9 338.1 L88.8 341.6 L86.4 345.5 L84.7 347.6 L83.0 349.7 L81.0 350.7 L78.6 353.2 L75.8 355.3 L72.4 356.3 L68.3 357.4 L66.2 356.3 L65.5 358.5 L62.1 359.9 L58.7 360.6 L55.6 361.6 L55.3 364.4 L53.2 364.8 L52.9 360.9 L50.1 360.2 L47.4 360.6 L43.9 362.3 L41.9 365.1 L39.5 368.3 L38.8 370.0 L41.2 373.2 L43.3 376.4 L46.7 379.2 L49.4 382.3 L50.8 386.9 L51.1 391.1 L50.8 394.6 L49.4 396.4 L46.0 398.5 L43.3 399.6 L42.2 402.7 L38.1 404.5 L35.7 405.9 L36.1 402.7 L36.4 400.3 L34.7 399.6 L19.3 399.2Z" fill="#e6e8e8" stroke="#151515" stroke-width="0.75" stroke-linejoin="round"/>
<path d="M49.1 368.6 L50.8 366.2 L53.5 365.5 L55.9 365.8 L57.0 367.2 L55.3 370.0 L53.5 371.5 L51.8 372.2 L49.1 371.1 L48.7 369.3Z" fill="#e6e8e8" stroke="#151515" stroke-width="0.75" stroke-linejoin="round"/>
<path d="M91.2 348.3 L93.3 347.2 L94.3 348.3 L94.0 350.0 L93.3 351.8 L92.6 354.6 L91.2 356.7 L90.6 359.0 L89.9 357.4 L88.5 356.0 L88.2 353.5 L88.8 351.1 L90.2 349.3Z" fill="#e6e8e8" stroke="#151515" stroke-width="0.75" stroke-linejoin="round"/>
<path d="M89.9 371.1 L91.9 370.8 L95.4 371.1 L95.7 375.0 L96.4 376.4 L95.4 378.8 L93.3 379.9 L93.0 382.3 L93.6 385.9 L95.4 386.9 L97.1 385.9 L99.1 386.9 L101.2 387.6 L101.9 390.4 L101.5 391.8 L99.1 390.4 L96.7 389.7 L96.4 387.3 L93.6 387.3 L91.2 388.0 L89.9 386.2 L90.9 384.8 L89.5 384.1 L88.2 384.1 L87.5 380.6 L88.8 379.5 L89.2 376.7 L89.2 374.6Z" fill="#e6e8e8" stroke="#151515" stroke-width="0.75" stroke-linejoin="round"/>
<path d="M89.2 388.7 L91.9 389.0 L93.0 391.8 L91.9 393.2 L90.6 391.5Z" fill="#e6e8e8" stroke="#151515" stroke-width="0.75" stroke-linejoin="round"/>
<path d="M102.6 392.2 L105.6 392.2 L106.7 395.3 L107.0 397.1 L105.0 396.4 L104.3 394.6Z" fill="#e6e8e8" stroke="#151515" stroke-width="0.75" stroke-linejoin="round"/>
<path d="M102.9 396.0 L105.0 396.8 L105.6 399.9 L104.3 400.6 L103.9 398.2Z" fill="#e6e8e8" stroke="#151515" stroke-width="0.75" stroke-linejoin="round"/>
<path d="M94.7 394.3 L97.8 395.7 L98.4 396.8 L96.7 398.5 L94.7 399.2 L94.3 397.5Z" fill="#e6e8e8" stroke="#151515" stroke-width="0.75" stroke-linejoin="round"/>
<path d="M97.8 397.8 L99.8 398.2 L99.1 401.3 L98.4 404.1 L96.7 403.1 L96.0 401.3Z" fill="#e6e8e8" stroke="#151515" stroke-width="0.75" stroke-linejoin="round"/>
<path d="M101.5 396.8 L101.5 399.2 L99.5 402.7 L100.2 399.6Z" fill="#e6e8e8" stroke="#151515" stroke-width="0.75" stroke-linejoin="round"/>
<path d="M100.8 401.3 L103.2 400.6 L103.6 402.0 L101.5 402.4Z" fill="#e6e8e8" stroke="#151515" stroke-width="0.75" stroke-linejoin="round"/>
<path d="M78.2 406.6 L81.0 403.8 L84.4 399.6 L86.1 396.4 L86.8 399.2 L83.7 402.4 L80.3 405.5Z" fill="#e6e8e8" stroke="#151515" stroke-width="0.75" stroke-linejoin="round"/>
<path d="M106.3 401.7 L109.1 403.8 L110.4 409.0 L109.1 413.3 L107.4 411.5 L106.3 415.0 L105.6 416.1 L102.2 414.3 L101.5 410.8 L99.5 410.1 L97.4 409.8 L95.0 411.9 L94.3 410.8 L95.7 408.0 L98.1 406.2 L100.8 407.6 L102.6 406.2 L104.3 404.5Z" fill="#e6e8e8" stroke="#151515" stroke-width="0.75" stroke-linejoin="round"/>
<path d="M77.5 411.5 L79.9 414.0 L82.0 415.7 L85.1 417.8 L81.6 420.3 L79.9 422.0 L80.3 425.6 L81.0 429.1 L83.7 432.6 L80.3 433.3 L79.2 436.1 L79.2 443.1 L50.1 443.1 L50.1 436.1 L50.1 430.8 L53.5 430.1 L57.0 430.8 L58.0 427.3 L63.8 424.9 L67.3 420.3 L70.7 418.5 L72.4 416.4 L74.8 414.3 L76.9 411.9Z" fill="#e6e8e8" stroke="#151515" stroke-width="0.75" stroke-linejoin="round"/>
<path d="M87.8 433.3 L91.2 431.5 L96.4 432.6 L101.5 432.9 L105.0 430.5 L105.6 431.5 L103.2 434.7 L98.1 434.3 L93.0 434.3 L88.8 435.4 L87.8 443.1 L86.4 443.1 L87.1 435.4Z" fill="#e6e8e8" stroke="#151515" stroke-width="0.75" stroke-linejoin="round"/>
<path d="M113.5 432.6 L114.9 428.7 L115.2 430.8 L117.3 430.8 L115.9 432.9 L117.6 435.0 L114.9 434.7 L114.9 437.9 L113.9 434.3Z" fill="#e6e8e8" stroke="#151515" stroke-width="0.75" stroke-linejoin="round"/>
<path d="M114.2 344.4 L115.2 343.3 L116.3 341.6 L115.2 342.6Z" fill="#e6e8e8" stroke="#151515" stroke-width="0.75" stroke-linejoin="round"/>
<path d="M119.4 337.0 L121.1 336.0 L120.4 337.0Z" fill="#e6e8e8" stroke="#151515" stroke-width="0.75" stroke-linejoin="round"/>
<path d="M100.5 350.7 L102.6 350.0 L102.2 350.7Z" fill="#e6e8e8" stroke="#151515" stroke-width="0.75" stroke-linejoin="round"/>
<path d="M19.3 413.3 L27.1 414.3 L30.9 419.2 L31.3 425.6 L33.7 430.8 L33.0 431.9 L19.3 431.9Z" fill="#e6e8e8" stroke="#151515" stroke-width="0.75" stroke-linejoin="round"/>
<path d="M19.3 432.6 L26.1 432.6 L31.3 435.0 L33.0 438.9 L34.7 443.1 L19.3 443.1Z" fill="#e6e8e8" stroke="#151515" stroke-width="0.75" stroke-linejoin="round"/>
</g>
<rect x="87.8" y="348.3" width="154.3" height="70.3" fill="none" stroke="#f3261b" stroke-width="1.5" rx="0.8"/>
<g clip-path="url(#clipe)">
<path d="M101.5 330.7L100.3 336.9" stroke="#000" stroke-width="1.15"/><path d="M99.5 341.5L98.9 336.7L101.8 337.2Z" fill="#000"/>
<path d="M115.2 330.7L111.2 333.9" stroke="#000" stroke-width="1.15"/><path d="M107.6 336.7L110.2 332.7L112.1 335.1Z" fill="#000"/>
<path d="M238.7 330.7L231.7 333.8" stroke="#000" stroke-width="1.15"/><path d="M227.5 335.7L231.1 332.4L232.3 335.2Z" fill="#000"/>
<path d="M252.4 330.7L246.5 336.5" stroke="#000" stroke-width="1.15"/><path d="M243.3 339.8L245.5 335.5L247.6 337.6Z" fill="#000"/>
<path d="M266.1 330.7L262.5 337.0" stroke="#000" stroke-width="1.15"/><path d="M260.3 341.0L261.2 336.3L263.8 337.8Z" fill="#000"/>
<path d="M279.8 330.7L280.2 334.4" stroke="#000" stroke-width="1.15"/><path d="M280.6 339.0L278.7 334.5L281.6 334.2Z" fill="#000"/>
<path d="M101.5 344.8L109.8 357.4" stroke="#000" stroke-width="1.15"/><path d="M112.3 361.3L108.5 358.3L111.0 356.6Z" fill="#000"/>
<path d="M115.2 344.8L118.9 344.8" stroke="#000" stroke-width="1.15"/><path d="M123.5 344.8L118.9 346.3L118.9 343.3Z" fill="#000"/>
<path d="M129.0 344.8L133.6 335.1" stroke="#000" stroke-width="1.15"/><path d="M135.6 330.9L134.9 335.7L132.2 334.4Z" fill="#000"/>
<path d="M142.7 344.8L145.2 337.1" stroke="#000" stroke-width="1.15"/><path d="M146.6 332.8L146.6 337.6L143.8 336.7Z" fill="#000"/>
<path d="M170.1 344.8L166.9 343.5" stroke="#000" stroke-width="1.15"/><path d="M162.6 341.9L167.5 342.1L166.4 344.9Z" fill="#000"/>
<path d="M183.8 344.8L177.3 341.8" stroke="#000" stroke-width="1.15"/><path d="M173.1 340.0L177.9 340.5L176.6 343.2Z" fill="#000"/>
<path d="M197.5 344.8L189.0 338.0" stroke="#000" stroke-width="1.15"/><path d="M185.4 335.2L190.0 336.8L188.1 339.2Z" fill="#000"/>
<path d="M211.2 344.8L198.1 339.1" stroke="#000" stroke-width="1.15"/><path d="M193.9 337.3L198.7 337.7L197.5 340.5Z" fill="#000"/>
<path d="M224.9 344.8L212.5 341.7" stroke="#000" stroke-width="1.15"/><path d="M208.0 340.6L212.8 340.3L212.1 343.2Z" fill="#000"/>
<path d="M238.7 344.8L230.0 345.8" stroke="#000" stroke-width="1.15"/><path d="M225.4 346.4L229.8 344.3L230.2 347.3Z" fill="#000"/>
<path d="M252.4 344.8L247.3 347.5" stroke="#000" stroke-width="1.15"/><path d="M243.3 349.7L246.6 346.2L248.0 348.8Z" fill="#000"/>
<path d="M266.1 344.8L263.8 346.2" stroke="#000" stroke-width="1.15"/><path d="M260.3 348.5L262.9 345.0L264.6 347.5Z" fill="#000"/>
<path d="M279.8 344.8L279.1 346.6" stroke="#000" stroke-width="1.15"/><path d="M278.1 349.5L277.7 346.1L280.5 347.1Z" fill="#000"/>
<path d="M74.1 358.8L75.8 359.5" stroke="#000" stroke-width="1.15"/><path d="M78.2 360.5L75.2 360.9L76.3 358.1Z" fill="#000"/>
<path d="M101.5 358.8L103.2 359.8" stroke="#000" stroke-width="1.15"/><path d="M105.7 361.3L102.4 361.1L104.0 358.5Z" fill="#000"/>
<path d="M115.2 358.8L120.6 359.7" stroke="#000" stroke-width="1.15"/><path d="M125.2 360.5L120.4 361.2L120.9 358.2Z" fill="#000"/>
<path d="M129.0 358.8L133.3 353.3" stroke="#000" stroke-width="1.15"/><path d="M136.2 349.7L134.5 354.2L132.1 352.4Z" fill="#000"/>
<path d="M142.7 358.8L142.7 356.1" stroke="#000" stroke-width="1.15"/><path d="M142.7 351.9L144.2 356.1L141.2 356.1Z" fill="#000"/>
<path d="M170.1 358.8L172.2 360.0" stroke="#000" stroke-width="1.15"/><path d="M175.5 361.9L171.5 361.3L173.0 358.7Z" fill="#000"/>
<path d="M197.5 358.8L193.5 354.0" stroke="#000" stroke-width="1.15"/><path d="M190.5 350.5L194.6 353.1L192.3 355.0Z" fill="#000"/>
<path d="M211.2 358.8L206.9 354.3" stroke="#000" stroke-width="1.15"/><path d="M203.8 351.0L208.0 353.3L205.9 355.3Z" fill="#000"/>
<path d="M224.9 358.8L219.9 355.3" stroke="#000" stroke-width="1.15"/><path d="M216.2 352.7L220.8 354.1L219.1 356.5Z" fill="#000"/>
<path d="M238.7 358.8L234.1 359.2" stroke="#000" stroke-width="1.15"/><path d="M229.6 359.6L234.0 357.7L234.3 360.7Z" fill="#000"/>
<path d="M252.4 358.8L249.7 359.8" stroke="#000" stroke-width="1.15"/><path d="M245.7 361.3L249.2 358.4L250.2 361.2Z" fill="#000"/>
<path d="M266.1 358.8L263.8 360.1" stroke="#000" stroke-width="1.15"/><path d="M260.3 362.1L263.0 358.8L264.5 361.4Z" fill="#000"/>
<path d="M279.8 358.8L278.1 360.5" stroke="#000" stroke-width="1.15"/><path d="M275.7 362.9L277.1 359.4L279.2 361.5Z" fill="#000"/>
<path d="M46.7 372.9L48.7 373.2" stroke="#000" stroke-width="1.15"/><path d="M51.6 373.7L48.4 374.7L48.9 371.7Z" fill="#000"/>
<path d="M60.4 372.9L64.1 372.9" stroke="#000" stroke-width="1.15"/><path d="M68.7 372.9L64.1 374.4L64.1 371.4Z" fill="#000"/>
<path d="M74.1 372.9L76.8 372.9" stroke="#000" stroke-width="1.15"/><path d="M80.7 372.9L76.8 374.4L76.8 371.4Z" fill="#000"/>
<path d="M115.2 372.9L116.9 374.5" stroke="#000" stroke-width="1.15"/><path d="M119.4 377.0L115.8 375.6L118.0 373.5Z" fill="#000"/>
<path d="M197.5 372.9L199.2 370.9" stroke="#000" stroke-width="1.15"/><path d="M201.7 367.9L200.3 371.8L198.0 369.9Z" fill="#000"/>
<path d="M211.2 372.9L211.7 367.5" stroke="#000" stroke-width="1.15"/><path d="M212.1 362.9L213.2 367.6L210.2 367.4Z" fill="#000"/>
<path d="M224.9 372.9L223.1 370.7" stroke="#000" stroke-width="1.15"/><path d="M220.2 367.6L224.2 369.7L221.9 371.7Z" fill="#000"/>
<path d="M252.4 372.9L250.5 374.0" stroke="#000" stroke-width="1.15"/><path d="M247.8 375.8L249.7 372.8L251.3 375.3Z" fill="#000"/>
<path d="M266.1 372.9L263.8 374.2" stroke="#000" stroke-width="1.15"/><path d="M260.3 376.2L263.0 372.9L264.5 375.5Z" fill="#000"/>
<path d="M279.8 372.9L277.6 374.2" stroke="#000" stroke-width="1.15"/><path d="M274.2 376.2L276.8 372.9L278.3 375.5Z" fill="#000"/>
<path d="M74.1 386.9L76.1 386.9" stroke="#000" stroke-width="1.15"/><path d="M79.1 386.9L76.1 388.4L76.1 385.4Z" fill="#000"/>
<path d="M87.8 386.9L91.6 387.7" stroke="#000" stroke-width="1.15"/><path d="M96.1 388.6L91.3 389.1L91.9 386.2Z" fill="#000"/>
<path d="M101.5 386.9L110.3 390.0" stroke="#000" stroke-width="1.15"/><path d="M114.6 391.5L109.8 391.4L110.8 388.6Z" fill="#000"/>
<path d="M115.2 386.9L124.6 388.5" stroke="#000" stroke-width="1.15"/><path d="M129.1 389.2L124.4 390.0L124.8 387.0Z" fill="#000"/>
<path d="M129.0 386.9L136.4 389.1" stroke="#000" stroke-width="1.15"/><path d="M140.9 390.4L136.0 390.5L136.9 387.7Z" fill="#000"/>
<path d="M183.8 386.9L185.9 384.4" stroke="#000" stroke-width="1.15"/><path d="M188.8 380.8L187.0 385.3L184.7 383.4Z" fill="#000"/>
<path d="M197.5 386.9L201.1 385.2" stroke="#000" stroke-width="1.15"/><path d="M205.3 383.3L201.8 386.6L200.5 383.9Z" fill="#000"/>
<path d="M211.2 386.9L211.6 384.6" stroke="#000" stroke-width="1.15"/><path d="M212.1 381.1L213.0 384.8L210.1 384.4Z" fill="#000"/>
<path d="M224.9 386.9L223.0 385.7" stroke="#000" stroke-width="1.15"/><path d="M220.0 383.9L223.7 384.4L222.2 387.0Z" fill="#000"/>
<path d="M46.7 401.0L49.4 402.7" stroke="#000" stroke-width="1.15"/><path d="M53.3 405.1L48.6 403.9L50.2 401.4Z" fill="#000"/>
<path d="M60.4 401.0L64.1 401.3" stroke="#000" stroke-width="1.15"/><path d="M68.7 401.8L63.9 402.8L64.2 399.8Z" fill="#000"/>
<path d="M74.1 401.0L80.3 401.0" stroke="#000" stroke-width="1.15"/><path d="M84.9 401.0L80.3 402.5L80.3 399.5Z" fill="#000"/>
<path d="M87.8 401.0L94.0 401.9" stroke="#000" stroke-width="1.15"/><path d="M98.6 402.6L93.8 403.4L94.3 400.4Z" fill="#000"/>
<path d="M101.5 401.0L110.2 403.6" stroke="#000" stroke-width="1.15"/><path d="M114.6 404.9L109.8 405.0L110.6 402.2Z" fill="#000"/>
<path d="M115.2 401.0L124.0 403.0" stroke="#000" stroke-width="1.15"/><path d="M128.5 404.1L123.7 404.5L124.3 401.6Z" fill="#000"/>
<path d="M129.0 401.0L138.0 401.5" stroke="#000" stroke-width="1.15"/><path d="M142.6 401.8L137.9 403.0L138.1 400.0Z" fill="#000"/>
<path d="M142.7 401.0L156.8 404.0" stroke="#000" stroke-width="1.15"/><path d="M161.3 404.9L156.5 405.4L157.1 402.5Z" fill="#000"/>
<path d="M156.4 401.0L165.9 402.6" stroke="#000" stroke-width="1.15"/><path d="M170.4 403.4L165.6 404.1L166.2 401.2Z" fill="#000"/>
<path d="M170.1 401.0L178.0 399.4" stroke="#000" stroke-width="1.15"/><path d="M182.5 398.5L178.3 400.9L177.7 397.9Z" fill="#000"/>
<path d="M183.8 401.0L190.9 399.1" stroke="#000" stroke-width="1.15"/><path d="M195.4 397.9L191.3 400.5L190.6 397.6Z" fill="#000"/>
<path d="M197.5 401.0L200.1 400.7" stroke="#000" stroke-width="1.15"/><path d="M203.9 400.4L200.2 402.2L199.9 399.2Z" fill="#000"/>
<path d="M224.9 401.0L222.6 400.6" stroke="#000" stroke-width="1.15"/><path d="M219.2 400.1L222.8 399.2L222.4 402.1Z" fill="#000"/>
<path d="M238.7 401.0L235.4 401.0" stroke="#000" stroke-width="1.15"/><path d="M230.8 401.0L235.4 399.5L235.4 402.5Z" fill="#000"/>
<path d="M252.4 401.0L248.9 402.1" stroke="#000" stroke-width="1.15"/><path d="M244.5 403.4L248.4 400.6L249.3 403.5Z" fill="#000"/>
<path d="M266.1 401.0L263.4 402.3" stroke="#000" stroke-width="1.15"/><path d="M259.5 404.3L262.8 400.9L264.1 403.6Z" fill="#000"/>
<path d="M279.8 401.0L277.8 402.0" stroke="#000" stroke-width="1.15"/><path d="M274.8 403.4L277.1 400.6L278.5 403.3Z" fill="#000"/>
<path d="M46.7 415.0L49.0 416.3" stroke="#000" stroke-width="1.15"/><path d="M52.5 418.3L48.3 417.6L49.7 415.0Z" fill="#000"/>
<path d="M60.4 415.0L63.0 416.0" stroke="#000" stroke-width="1.15"/><path d="M67.0 417.5L62.5 417.4L63.6 414.6Z" fill="#000"/>
<path d="M87.8 415.0L91.7 413.9" stroke="#000" stroke-width="1.15"/><path d="M96.1 412.5L92.1 415.3L91.3 412.4Z" fill="#000"/>
<path d="M101.5 415.0L107.7 415.0" stroke="#000" stroke-width="1.15"/><path d="M112.3 415.0L107.7 416.5L107.7 413.5Z" fill="#000"/>
<path d="M115.2 415.0L124.6 412.9" stroke="#000" stroke-width="1.15"/><path d="M129.1 412.0L125.0 414.4L124.3 411.5Z" fill="#000"/>
<path d="M129.0 415.0L139.9 412.4" stroke="#000" stroke-width="1.15"/><path d="M144.3 411.4L140.2 413.9L139.5 411.0Z" fill="#000"/>
<path d="M142.7 415.0L155.4 415.6" stroke="#000" stroke-width="1.15"/><path d="M160.0 415.8L155.4 417.1L155.5 414.1Z" fill="#000"/>
<path d="M156.4 415.0L165.9 416.4" stroke="#000" stroke-width="1.15"/><path d="M170.4 417.1L165.7 417.9L166.1 414.9Z" fill="#000"/>
<path d="M170.1 415.0L177.9 414.2" stroke="#000" stroke-width="1.15"/><path d="M182.5 413.8L178.1 415.7L177.8 412.7Z" fill="#000"/>
<path d="M183.8 415.0L190.0 416.0" stroke="#000" stroke-width="1.15"/><path d="M194.6 416.7L189.8 417.5L190.2 414.5Z" fill="#000"/>
<path d="M197.5 415.0L203.3 417.7" stroke="#000" stroke-width="1.15"/><path d="M207.4 419.6L202.6 419.0L203.9 416.3Z" fill="#000"/>
<path d="M211.2 415.0L215.2 416.6" stroke="#000" stroke-width="1.15"/><path d="M219.5 418.3L214.7 418.0L215.8 415.2Z" fill="#000"/>
<path d="M224.9 415.0L226.3 415.7" stroke="#000" stroke-width="1.15"/><path d="M228.2 416.7L225.6 417.0L226.9 414.3Z" fill="#000"/>
<path d="M87.8 429.1L87.5 426.8" stroke="#000" stroke-width="1.15"/><path d="M87.0 423.3L89.0 426.5L86.0 427.0Z" fill="#000"/>
<path d="M115.2 429.1L116.2 426.8" stroke="#000" stroke-width="1.15"/><path d="M117.7 423.3L117.6 427.3L114.9 426.2Z" fill="#000"/>
<path d="M129.0 429.1L131.3 429.1" stroke="#000" stroke-width="1.15"/><path d="M134.7 429.1L131.3 430.6L131.3 427.6Z" fill="#000"/>
<path d="M142.7 429.1L145.0 429.1" stroke="#000" stroke-width="1.15"/><path d="M148.5 429.1L145.0 430.6L145.0 427.6Z" fill="#000"/>
<path d="M156.4 429.1L161.8 427.7" stroke="#000" stroke-width="1.15"/><path d="M166.3 426.6L162.2 429.2L161.5 426.3Z" fill="#000"/>
<path d="M170.1 429.1L175.9 429.1" stroke="#000" stroke-width="1.15"/><path d="M180.5 429.1L175.9 430.6L175.9 427.6Z" fill="#000"/>
<path d="M183.8 429.1L192.4 429.6" stroke="#000" stroke-width="1.15"/><path d="M197.0 429.9L192.4 431.1L192.5 428.1Z" fill="#000"/>
<path d="M197.5 429.1L212.9 432.3" stroke="#000" stroke-width="1.15"/><path d="M217.4 433.2L212.6 433.7L213.2 430.8Z" fill="#000"/>
<path d="M211.2 429.1L225.8 432.6" stroke="#000" stroke-width="1.15"/><path d="M230.2 433.6L225.4 434.0L226.1 431.1Z" fill="#000"/>
<path d="M224.9 429.1L237.0 432.4" stroke="#000" stroke-width="1.15"/><path d="M241.5 433.6L236.6 433.8L237.4 431.0Z" fill="#000"/>
<path d="M238.7 429.1L261.3 430.1" stroke="#000" stroke-width="1.15"/><path d="M265.9 430.3L261.3 431.6L261.4 428.6Z" fill="#000"/>
<path d="M252.4 429.1L271.7 428.4" stroke="#000" stroke-width="1.15"/><path d="M276.3 428.2L271.8 429.9L271.7 426.9Z" fill="#000"/>
<path d="M266.1 429.1L286.3 427.7" stroke="#000" stroke-width="1.15"/><path d="M290.9 427.4L286.4 429.2L286.2 426.2Z" fill="#000"/>
<path d="M279.8 429.1L288.4 428.5" stroke="#000" stroke-width="1.15"/><path d="M293.0 428.2L288.5 430.0L288.3 427.0Z" fill="#000"/>
</g>
<rect x="36.4" y="330.7" width="257.1" height="105.4" fill="none" stroke="#000" stroke-width="1.7"/>
<path d="M87.8 436.1 v-2 M87.8 330.7 v2" stroke="#000" stroke-width="0.9"/>
<path d="M156.4 436.1 v-2 M156.4 330.7 v2" stroke="#000" stroke-width="0.9"/>
<path d="M224.9 436.1 v-2 M224.9 330.7 v2" stroke="#000" stroke-width="0.9"/>
<path d="M36.4 383.4 h2 M293.5 383.4 h-2" stroke="#000" stroke-width="0.9"/>
<text x="87.8" y="450.4" font-size="14.8" text-anchor="middle" fill="#111" >120°E</text>
<text x="156.4" y="450.4" font-size="14.8" text-anchor="middle" fill="#111" >140°E</text>
<text x="224.9" y="450.4" font-size="14.8" text-anchor="middle" fill="#111" >160°E</text>
<text x="291.5" y="450.4" font-size="14.8" text-anchor="middle" fill="#111" >180°</text>
<text x="31.8" y="336.2" font-size="14.8" text-anchor="end" fill="#111" >30°N</text>
<text x="31.8" y="388.9" font-size="14.8" text-anchor="end" fill="#111" >15°N</text>
<text x="28.2" y="441.6" font-size="14.8" text-anchor="end" fill="#111" >0°</text>
<clipPath id="clipf"><rect x="364.2" y="330.7" width="257.5" height="105.4"/></clipPath>
<g clip-path="url(#clipf)">
<g filter="url(#Ff)">
<rect x="334.2" y="300.7" width="317.5" height="165.4" fill="#808080"/>
<path d="M424.3 327.2 L484.4 327.2 L498.1 339.5 L518.7 344.8 L570.2 343.0 L625.1 341.2 L625.1 402.7 L594.2 404.5 L570.2 401.0 L546.2 399.2 L518.7 397.5 L494.7 399.2 L480.9 404.5 L460.3 406.2 L443.2 401.0 L426.0 397.5 L412.3 404.5 L395.1 406.2 L381.4 401.0 L376.2 390.4 L379.6 379.9 L388.2 371.1 L402.0 364.1 L415.7 362.3 L420.9 355.3 L422.6 348.3Z" fill="rgb(104,104,104)"/>
<ellipse cx="443.2" cy="364.1" rx="24.0" ry="4.6" transform="rotate(12 443.2 364.1)" fill="url(#gg)" opacity="1.000"/>
<ellipse cx="477.5" cy="376.4" rx="17.2" ry="3.9" transform="rotate(20 477.5 376.4)" fill="url(#gg)" opacity="1.000"/>
<ellipse cx="508.4" cy="350.0" rx="17.2" ry="5.3" transform="rotate(0 508.4 350.0)" fill="url(#gg)" opacity="1.000"/>
<ellipse cx="554.5" cy="367.7" rx="20.6" ry="7.7" transform="rotate(0 554.5 367.7)" fill="url(#gk)" opacity="0.311"/>
<ellipse cx="523.7" cy="379.6" rx="12.4" ry="6.3" transform="rotate(0 523.7 379.6)" fill="url(#gk)" opacity="0.400"/>
<ellipse cx="560.5" cy="394.5" rx="10.3" ry="7.0" transform="rotate(0 560.5 394.5)" fill="url(#gk)" opacity="0.289"/>
<ellipse cx="611.1" cy="399.5" rx="13.7" ry="6.3" transform="rotate(0 611.1 399.5)" fill="url(#gk)" opacity="0.289"/>
<ellipse cx="501.9" cy="381.6" rx="13.7" ry="9.1" transform="rotate(0 501.9 381.6)" fill="url(#gk)" opacity="0.333"/>
<ellipse cx="473.8" cy="363.6" rx="24.0" ry="10.5" transform="rotate(0 473.8 363.6)" fill="url(#gk)" opacity="0.333"/>
<ellipse cx="483.4" cy="365.5" rx="5.2" ry="5.6" transform="rotate(0 483.4 365.5)" fill="url(#gk)" opacity="0.556"/>
<path d="M378.4 388.6 L385.1 374.2 L399.6 365.5 L415.0 360.7 L419.8 369.4 L418.8 390.6 L414.0 400.2 L396.7 403.1 L381.2 397.7Z" fill="rgb(88,88,88)"/>
<path d="M382.8 388.0 L388.0 377.6 L400.5 369.9 L412.5 365.5 L415.9 372.2 L415.6 388.6 L411.1 396.3 L396.7 398.8 L384.7 394.4Z" fill="rgb(68,68,68)"/>
<ellipse cx="392.4" cy="389.7" rx="10.3" ry="7.0" transform="rotate(0 392.4 389.7)" fill="url(#gk)" opacity="0.333"/>
<ellipse cx="410.6" cy="381.6" rx="8.6" ry="8.8" transform="rotate(0 410.6 381.6)" fill="url(#gk)" opacity="0.278"/>
<ellipse cx="438.0" cy="378.5" rx="22.3" ry="11.9" transform="rotate(12 438.0 378.5)" fill="url(#gk)" opacity="0.833"/>
<ellipse cx="424.3" cy="367.6" rx="8.6" ry="7.0" transform="rotate(0 424.3 367.6)" fill="url(#gk)" opacity="0.444"/>
<ellipse cx="446.6" cy="380.6" rx="4.8" ry="6.0" transform="rotate(0 446.6 380.6)" fill="url(#gk)" opacity="1.000"/>
<ellipse cx="429.4" cy="373.6" rx="6.9" ry="7.0" transform="rotate(0 429.4 373.6)" fill="url(#gk)" opacity="0.889"/>
<ellipse cx="472.4" cy="389.7" rx="24.0" ry="6.7" transform="rotate(4 472.4 389.7)" fill="url(#gk)" opacity="0.467"/>
<ellipse cx="377.4" cy="362.2" rx="6.9" ry="4.6" transform="rotate(0 377.4 362.2)" fill="url(#gw)" opacity="1.000"/>
<ellipse cx="394.7" cy="361.1" rx="17.2" ry="4.6" transform="rotate(-22 394.7 361.1)" fill="url(#gw)" opacity="0.778"/>
<ellipse cx="411.1" cy="353.9" rx="8.9" ry="4.2" transform="rotate(-30 411.1 353.9)" fill="url(#gw)" opacity="1.000"/>
<ellipse cx="424.6" cy="355.9" rx="5.8" ry="5.3" transform="rotate(0 424.6 355.9)" fill="url(#gw)" opacity="1.000"/>
<ellipse cx="470.3" cy="383.0" rx="4.1" ry="2.8" transform="rotate(0 470.3 383.0)" fill="url(#gw)" opacity="0.667"/>
<ellipse cx="434.6" cy="343.0" rx="8.6" ry="4.2" transform="rotate(0 434.6 343.0)" fill="url(#gk)" opacity="0.267"/>
<ellipse cx="467.0" cy="409.8" rx="4.1" ry="4.2" transform="rotate(0 467.0 409.8)" fill="url(#gw)" opacity="0.778"/>
<ellipse cx="409.2" cy="409.3" rx="3.4" ry="4.9" transform="rotate(0 409.2 409.3)" fill="url(#gw)" opacity="1.000"/>
<ellipse cx="378.4" cy="411.8" rx="4.5" ry="3.9" transform="rotate(0 378.4 411.8)" fill="url(#gw)" opacity="0.778"/>
<ellipse cx="570.2" cy="416.4" rx="56.7" ry="11.9" transform="rotate(3 570.2 416.4)" fill="url(#gw)" opacity="0.333"/>
<ellipse cx="525.7" cy="407.4" rx="5.5" ry="8.1" transform="rotate(0 525.7 407.4)" fill="url(#gw)" opacity="1.000"/>
<ellipse cx="534.1" cy="400.4" rx="4.8" ry="3.5" transform="rotate(0 534.1 400.4)" fill="url(#gw)" opacity="0.889"/>
<ellipse cx="548.6" cy="413.4" rx="12.4" ry="6.0" transform="rotate(12 548.6 413.4)" fill="url(#gw)" opacity="1.000"/>
<ellipse cx="567.8" cy="414.3" rx="3.4" ry="6.3" transform="rotate(0 567.8 414.3)" fill="url(#gw)" opacity="0.889"/>
<ellipse cx="583.3" cy="420.3" rx="13.7" ry="6.0" transform="rotate(5 583.3 420.3)" fill="url(#gw)" opacity="1.000"/>
<ellipse cx="613.1" cy="421.3" rx="8.6" ry="4.9" transform="rotate(5 613.1 421.3)" fill="url(#gw)" opacity="0.889"/>
<ellipse cx="510.8" cy="336.9" rx="12.0" ry="5.6" transform="rotate(0 510.8 336.9)" fill="url(#gw)" opacity="0.156"/>
<ellipse cx="589.3" cy="335.9" rx="15.5" ry="5.3" transform="rotate(0 589.3 335.9)" fill="url(#gw)" opacity="0.156"/>
</g>
<path d="M347.0 323.7 L423.3 323.7 L422.2 327.5 L418.8 329.6 L422.2 331.1 L421.2 333.5 L422.2 336.0 L418.8 338.1 L416.7 341.6 L414.3 345.5 L412.6 347.6 L410.9 349.7 L408.8 350.7 L406.4 353.2 L403.7 355.3 L400.2 356.3 L396.1 357.4 L394.1 356.3 L393.4 358.5 L389.9 359.9 L386.5 360.6 L383.4 361.6 L383.1 364.4 L381.0 364.8 L380.7 360.9 L377.9 360.2 L375.2 360.6 L371.8 362.3 L369.7 365.1 L367.3 368.3 L366.6 370.0 L369.0 373.2 L371.1 376.4 L374.5 379.2 L377.2 382.3 L378.6 386.9 L379.0 391.1 L378.6 394.6 L377.2 396.4 L373.8 398.5 L371.1 399.6 L370.0 402.7 L365.9 404.5 L363.5 405.9 L363.9 402.7 L364.2 400.3 L362.5 399.6 L347.0 399.2Z" fill="#e6e8e8" stroke="#151515" stroke-width="0.75" stroke-linejoin="round"/>
<path d="M376.9 368.6 L378.6 366.2 L381.4 365.5 L383.8 365.8 L384.8 367.2 L383.1 370.0 L381.4 371.5 L379.6 372.2 L376.9 371.1 L376.6 369.3Z" fill="#e6e8e8" stroke="#151515" stroke-width="0.75" stroke-linejoin="round"/>
<path d="M419.1 348.3 L421.2 347.2 L422.2 348.3 L421.9 350.0 L421.2 351.8 L420.5 354.6 L419.1 356.7 L418.4 359.0 L417.8 357.4 L416.4 356.0 L416.0 353.5 L416.7 351.1 L418.1 349.3Z" fill="#e6e8e8" stroke="#151515" stroke-width="0.75" stroke-linejoin="round"/>
<path d="M417.8 371.1 L419.8 370.8 L423.3 371.1 L423.6 375.0 L424.3 376.4 L423.3 378.8 L421.2 379.9 L420.9 382.3 L421.5 385.9 L423.3 386.9 L425.0 385.9 L427.0 386.9 L429.1 387.6 L429.8 390.4 L429.4 391.8 L427.0 390.4 L424.6 389.7 L424.3 387.3 L421.5 387.3 L419.1 388.0 L417.8 386.2 L418.8 384.8 L417.4 384.1 L416.0 384.1 L415.4 380.6 L416.7 379.5 L417.1 376.7 L417.1 374.6Z" fill="#e6e8e8" stroke="#151515" stroke-width="0.75" stroke-linejoin="round"/>
<path d="M417.1 388.7 L419.8 389.0 L420.9 391.8 L419.8 393.2 L418.4 391.5Z" fill="#e6e8e8" stroke="#151515" stroke-width="0.75" stroke-linejoin="round"/>
<path d="M430.5 392.2 L433.6 392.2 L434.6 395.3 L434.9 397.1 L432.9 396.4 L432.2 394.6Z" fill="#e6e8e8" stroke="#151515" stroke-width="0.75" stroke-linejoin="round"/>
<path d="M430.8 396.0 L432.9 396.8 L433.6 399.9 L432.2 400.6 L431.8 398.2Z" fill="#e6e8e8" stroke="#151515" stroke-width="0.75" stroke-linejoin="round"/>
<path d="M422.6 394.3 L425.7 395.7 L426.3 396.8 L424.6 398.5 L422.6 399.2 L422.2 397.5Z" fill="#e6e8e8" stroke="#151515" stroke-width="0.75" stroke-linejoin="round"/>
<path d="M425.7 397.8 L427.7 398.2 L427.0 401.3 L426.3 404.1 L424.6 403.1 L423.9 401.3Z" fill="#e6e8e8" stroke="#151515" stroke-width="0.75" stroke-linejoin="round"/>
<path d="M429.4 396.8 L429.4 399.2 L427.4 402.7 L428.1 399.6Z" fill="#e6e8e8" stroke="#151515" stroke-width="0.75" stroke-linejoin="round"/>
<path d="M428.7 401.3 L431.1 400.6 L431.5 402.0 L429.4 402.4Z" fill="#e6e8e8" stroke="#151515" stroke-width="0.75" stroke-linejoin="round"/>
<path d="M406.1 406.6 L408.8 403.8 L412.3 399.6 L414.0 396.4 L414.7 399.2 L411.6 402.4 L408.1 405.5Z" fill="#e6e8e8" stroke="#151515" stroke-width="0.75" stroke-linejoin="round"/>
<path d="M434.2 401.7 L437.0 403.8 L438.4 409.0 L437.0 413.3 L435.3 411.5 L434.2 415.0 L433.6 416.1 L430.1 414.3 L429.4 410.8 L427.4 410.1 L425.3 409.8 L422.9 411.9 L422.2 410.8 L423.6 408.0 L426.0 406.2 L428.7 407.6 L430.5 406.2 L432.2 404.5Z" fill="#e6e8e8" stroke="#151515" stroke-width="0.75" stroke-linejoin="round"/>
<path d="M405.4 411.5 L407.8 414.0 L409.9 415.7 L413.0 417.8 L409.5 420.3 L407.8 422.0 L408.1 425.6 L408.8 429.1 L411.6 432.6 L408.1 433.3 L407.1 436.1 L407.1 443.1 L377.9 443.1 L377.9 436.1 L377.9 430.8 L381.4 430.1 L384.8 430.8 L385.8 427.3 L391.7 424.9 L395.1 420.3 L398.5 418.5 L400.2 416.4 L402.7 414.3 L404.7 411.9Z" fill="#e6e8e8" stroke="#151515" stroke-width="0.75" stroke-linejoin="round"/>
<path d="M415.7 433.3 L419.1 431.5 L424.3 432.6 L429.4 432.9 L432.9 430.5 L433.6 431.5 L431.1 434.7 L426.0 434.3 L420.9 434.3 L416.7 435.4 L415.7 443.1 L414.3 443.1 L415.0 435.4Z" fill="#e6e8e8" stroke="#151515" stroke-width="0.75" stroke-linejoin="round"/>
<path d="M441.5 432.6 L442.8 428.7 L443.2 430.8 L445.2 430.8 L443.9 432.9 L445.6 435.0 L442.8 434.7 L442.8 437.9 L441.8 434.3Z" fill="#e6e8e8" stroke="#151515" stroke-width="0.75" stroke-linejoin="round"/>
<path d="M442.1 344.4 L443.2 343.3 L444.2 341.6 L443.2 342.6Z" fill="#e6e8e8" stroke="#151515" stroke-width="0.75" stroke-linejoin="round"/>
<path d="M447.3 337.0 L449.0 336.0 L448.3 337.0Z" fill="#e6e8e8" stroke="#151515" stroke-width="0.75" stroke-linejoin="round"/>
<path d="M428.4 350.7 L430.5 350.0 L430.1 350.7Z" fill="#e6e8e8" stroke="#151515" stroke-width="0.75" stroke-linejoin="round"/>
<path d="M347.0 413.3 L354.9 414.3 L358.7 419.2 L359.1 425.6 L361.5 430.8 L360.8 431.9 L347.0 431.9Z" fill="#e6e8e8" stroke="#151515" stroke-width="0.75" stroke-linejoin="round"/>
<path d="M347.0 432.6 L353.9 432.6 L359.1 435.0 L360.8 438.9 L362.5 443.1 L347.0 443.1Z" fill="#e6e8e8" stroke="#151515" stroke-width="0.75" stroke-linejoin="round"/>
</g>
<rect x="415.7" y="348.3" width="154.5" height="70.3" fill="none" stroke="#f3261b" stroke-width="1.5" rx="0.8"/>
<g clip-path="url(#clipf)">
<path d="M443.2 330.7L450.3 332.6" stroke="#000" stroke-width="1.15"/><path d="M454.7 333.8L449.9 334.1L450.7 331.2Z" fill="#000"/>
<path d="M456.9 330.7L464.0 332.6" stroke="#000" stroke-width="1.15"/><path d="M468.5 333.8L463.6 334.1L464.4 331.2Z" fill="#000"/>
<path d="M470.6 330.7L477.8 332.6" stroke="#000" stroke-width="1.15"/><path d="M482.2 333.8L477.4 334.1L478.2 331.2Z" fill="#000"/>
<path d="M484.4 330.7L491.5 332.6" stroke="#000" stroke-width="1.15"/><path d="M495.9 333.8L491.1 334.1L491.9 331.2Z" fill="#000"/>
<path d="M498.1 330.7L503.5 331.6" stroke="#000" stroke-width="1.15"/><path d="M508.0 332.4L503.2 333.1L503.7 330.1Z" fill="#000"/>
<path d="M511.8 330.7L516.3 330.7" stroke="#000" stroke-width="1.15"/><path d="M520.9 330.7L516.3 332.2L516.3 329.2Z" fill="#000"/>
<path d="M429.4 344.8L429.4 342.8" stroke="#000" stroke-width="1.15"/><path d="M429.4 339.8L430.9 342.8L427.9 342.8Z" fill="#000"/>
<path d="M443.2 344.8L444.8 345.9" stroke="#000" stroke-width="1.15"/><path d="M447.3 347.6L444.0 347.1L445.7 344.7Z" fill="#000"/>
<path d="M456.9 344.8L459.9 346.7" stroke="#000" stroke-width="1.15"/><path d="M463.8 349.2L459.1 348.0L460.7 345.5Z" fill="#000"/>
<path d="M470.6 344.8L475.1 346.1" stroke="#000" stroke-width="1.15"/><path d="M479.5 347.4L474.6 347.5L475.5 344.6Z" fill="#000"/>
<path d="M484.4 344.8L488.4 348.4" stroke="#000" stroke-width="1.15"/><path d="M491.8 351.5L487.4 349.5L489.4 347.3Z" fill="#000"/>
<path d="M498.1 344.8L503.5 345.7" stroke="#000" stroke-width="1.15"/><path d="M508.0 346.4L503.2 347.1L503.7 344.2Z" fill="#000"/>
<path d="M511.8 344.8L517.9 340.7" stroke="#000" stroke-width="1.15"/><path d="M521.8 338.1L518.8 341.9L517.1 339.4Z" fill="#000"/>
<path d="M525.6 344.8L532.0 339.4" stroke="#000" stroke-width="1.15"/><path d="M535.5 336.5L532.9 340.6L531.0 338.3Z" fill="#000"/>
<path d="M539.3 344.8L548.9 341.9" stroke="#000" stroke-width="1.15"/><path d="M553.4 340.6L549.4 343.4L548.5 340.5Z" fill="#000"/>
<path d="M553.0 344.8L561.7 344.2" stroke="#000" stroke-width="1.15"/><path d="M566.3 343.9L561.8 345.7L561.6 342.7Z" fill="#000"/>
<path d="M566.8 344.8L573.8 344.3" stroke="#000" stroke-width="1.15"/><path d="M578.3 343.9L573.9 345.8L573.6 342.8Z" fill="#000"/>
<path d="M580.5 344.8L585.8 344.3" stroke="#000" stroke-width="1.15"/><path d="M590.4 343.9L586.0 345.8L585.7 342.8Z" fill="#000"/>
<path d="M594.2 344.8L596.9 344.1" stroke="#000" stroke-width="1.15"/><path d="M600.8 343.1L597.2 345.5L596.5 342.6Z" fill="#000"/>
<path d="M415.7 358.8L421.9 357.9" stroke="#000" stroke-width="1.15"/><path d="M426.5 357.2L422.1 359.3L421.7 356.4Z" fill="#000"/>
<path d="M429.4 358.8L433.9 358.8" stroke="#000" stroke-width="1.15"/><path d="M438.5 358.8L433.9 360.3L433.9 357.3Z" fill="#000"/>
<path d="M443.2 358.8L445.5 360.0" stroke="#000" stroke-width="1.15"/><path d="M449.1 361.7L444.9 361.3L446.2 358.6Z" fill="#000"/>
<path d="M456.9 358.8L461.6 360.1" stroke="#000" stroke-width="1.15"/><path d="M466.0 361.3L461.2 361.5L462.0 358.6Z" fill="#000"/>
<path d="M470.6 358.8L473.3 360.3" stroke="#000" stroke-width="1.15"/><path d="M477.2 362.4L472.6 361.6L474.0 358.9Z" fill="#000"/>
<path d="M484.4 358.8L488.4 361.0" stroke="#000" stroke-width="1.15"/><path d="M492.4 363.3L487.6 362.3L489.1 359.7Z" fill="#000"/>
<path d="M498.1 358.8L500.7 358.8" stroke="#000" stroke-width="1.15"/><path d="M504.7 358.8L500.7 360.3L500.7 357.3Z" fill="#000"/>
<path d="M511.8 358.8L515.4 356.4" stroke="#000" stroke-width="1.15"/><path d="M519.3 353.8L516.3 357.6L514.6 355.1Z" fill="#000"/>
<path d="M525.6 358.8L529.0 352.9" stroke="#000" stroke-width="1.15"/><path d="M531.4 348.9L530.3 353.6L527.7 352.1Z" fill="#000"/>
<path d="M539.3 358.8L542.6 353.6" stroke="#000" stroke-width="1.15"/><path d="M545.1 349.7L543.9 354.4L541.4 352.8Z" fill="#000"/>
<path d="M553.0 358.8L555.3 358.5" stroke="#000" stroke-width="1.15"/><path d="M558.8 358.0L555.6 360.0L555.1 357.0Z" fill="#000"/>
<path d="M566.8 358.8L567.8 358.5" stroke="#000" stroke-width="1.15"/><path d="M569.2 358.0L568.2 359.9L567.3 357.1Z" fill="#000"/>
<path d="M374.5 372.9L380.7 372.9" stroke="#000" stroke-width="1.15"/><path d="M385.3 372.9L380.7 374.4L380.7 371.4Z" fill="#000"/>
<path d="M388.2 372.9L398.3 362.2" stroke="#000" stroke-width="1.15"/><path d="M401.5 358.8L399.4 363.2L397.2 361.1Z" fill="#000"/>
<path d="M402.0 372.9L409.1 367.4" stroke="#000" stroke-width="1.15"/><path d="M412.7 364.6L410.0 368.6L408.2 366.2Z" fill="#000"/>
<path d="M415.7 372.9L424.8 367.2" stroke="#000" stroke-width="1.15"/><path d="M428.8 364.8L425.6 368.5L424.1 366.0Z" fill="#000"/>
<path d="M429.4 372.9L434.3 374.9" stroke="#000" stroke-width="1.15"/><path d="M438.5 376.7L433.7 376.3L434.9 373.6Z" fill="#000"/>
<path d="M443.2 372.9L448.3 375.0" stroke="#000" stroke-width="1.15"/><path d="M452.6 376.7L447.8 376.4L448.9 373.6Z" fill="#000"/>
<path d="M456.9 372.9L460.6 376.9" stroke="#000" stroke-width="1.15"/><path d="M463.8 380.2L459.5 377.9L461.7 375.8Z" fill="#000"/>
<path d="M470.6 372.9L471.6 375.6" stroke="#000" stroke-width="1.15"/><path d="M473.1 379.6L470.2 376.1L473.0 375.1Z" fill="#000"/>
<path d="M484.4 372.9L484.6 375.1" stroke="#000" stroke-width="1.15"/><path d="M484.9 378.5L483.1 375.2L486.1 375.0Z" fill="#000"/>
<path d="M498.1 372.9L498.4 374.5" stroke="#000" stroke-width="1.15"/><path d="M498.9 377.0L497.0 374.8L499.9 374.2Z" fill="#000"/>
<path d="M511.8 372.9L513.2 370.2" stroke="#000" stroke-width="1.15"/><path d="M515.1 366.2L514.5 370.9L511.8 369.5Z" fill="#000"/>
<path d="M525.6 372.9L526.3 369.1" stroke="#000" stroke-width="1.15"/><path d="M527.2 364.6L527.8 369.4L524.8 368.8Z" fill="#000"/>
<path d="M566.8 372.9L564.8 372.9" stroke="#000" stroke-width="1.15"/><path d="M561.8 372.9L564.8 371.4L564.8 374.4Z" fill="#000"/>
<path d="M580.5 372.9L578.5 374.2" stroke="#000" stroke-width="1.15"/><path d="M575.5 376.2L577.7 372.9L579.3 375.4Z" fill="#000"/>
<path d="M594.2 372.9L592.2 374.5" stroke="#000" stroke-width="1.15"/><path d="M589.3 377.0L591.3 373.4L593.2 375.7Z" fill="#000"/>
<path d="M608.0 372.9L606.3 374.8" stroke="#000" stroke-width="1.15"/><path d="M603.8 377.8L605.2 373.9L607.5 375.8Z" fill="#000"/>
<path d="M621.7 372.9L620.4 374.5" stroke="#000" stroke-width="1.15"/><path d="M618.4 377.0L619.2 373.6L621.5 375.5Z" fill="#000"/>
<path d="M374.5 386.9L376.8 385.9" stroke="#000" stroke-width="1.15"/><path d="M380.3 384.4L377.4 387.3L376.2 384.5Z" fill="#000"/>
<path d="M388.2 386.9L393.1 379.9" stroke="#000" stroke-width="1.15"/><path d="M395.7 376.2L394.3 380.8L391.8 379.1Z" fill="#000"/>
<path d="M402.0 386.9L402.9 381.5" stroke="#000" stroke-width="1.15"/><path d="M403.6 377.0L404.3 381.8L401.4 381.3Z" fill="#000"/>
<path d="M443.2 386.9L443.2 389.9" stroke="#000" stroke-width="1.15"/><path d="M443.2 394.4L441.7 389.9L444.7 389.9Z" fill="#000"/>
<path d="M456.9 386.9L456.5 391.4" stroke="#000" stroke-width="1.15"/><path d="M456.1 396.0L455.0 391.3L458.0 391.6Z" fill="#000"/>
<path d="M470.6 386.9L469.7 392.3" stroke="#000" stroke-width="1.15"/><path d="M469.0 396.8L468.3 392.1L471.2 392.5Z" fill="#000"/>
<path d="M484.4 386.9L482.1 391.8" stroke="#000" stroke-width="1.15"/><path d="M480.2 396.0L480.8 391.2L483.5 392.4Z" fill="#000"/>
<path d="M498.1 386.9L496.4 387.9" stroke="#000" stroke-width="1.15"/><path d="M494.0 389.4L495.7 386.6L497.2 389.2Z" fill="#000"/>
<path d="M511.8 386.9L509.9 383.5" stroke="#000" stroke-width="1.15"/><path d="M507.7 379.5L511.2 382.8L508.6 384.2Z" fill="#000"/>
<path d="M525.6 386.9L522.6 386.3" stroke="#000" stroke-width="1.15"/><path d="M518.1 385.3L522.9 384.8L522.3 387.7Z" fill="#000"/>
<path d="M539.3 386.9L534.8 386.5" stroke="#000" stroke-width="1.15"/><path d="M530.2 386.1L534.9 385.0L534.6 388.0Z" fill="#000"/>
<path d="M553.0 386.9L547.7 386.5" stroke="#000" stroke-width="1.15"/><path d="M543.1 386.1L547.8 385.0L547.6 388.0Z" fill="#000"/>
<path d="M566.8 386.9L561.4 387.8" stroke="#000" stroke-width="1.15"/><path d="M556.8 388.6L561.1 386.3L561.6 389.3Z" fill="#000"/>
<path d="M580.5 386.9L575.4 389.7" stroke="#000" stroke-width="1.15"/><path d="M571.4 391.9L574.7 388.4L576.2 391.0Z" fill="#000"/>
<path d="M594.2 386.9L588.9 390.8" stroke="#000" stroke-width="1.15"/><path d="M585.1 393.5L588.0 389.6L589.7 392.0Z" fill="#000"/>
<path d="M608.0 386.9L604.2 389.9" stroke="#000" stroke-width="1.15"/><path d="M600.5 392.7L603.2 388.7L605.1 391.1Z" fill="#000"/>
<path d="M621.7 386.9L620.0 388.6" stroke="#000" stroke-width="1.15"/><path d="M617.6 391.0L619.0 387.5L621.1 389.6Z" fill="#000"/>
<path d="M374.5 401.0L377.1 402.3" stroke="#000" stroke-width="1.15"/><path d="M381.1 404.3L376.5 403.6L377.8 400.9Z" fill="#000"/>
<path d="M402.0 401.0L392.5 401.5" stroke="#000" stroke-width="1.15"/><path d="M387.9 401.8L392.4 400.0L392.6 403.0Z" fill="#000"/>
<path d="M415.7 401.0L408.5 403.6" stroke="#000" stroke-width="1.15"/><path d="M404.1 405.1L407.9 402.1L409.0 405.0Z" fill="#000"/>
<path d="M443.2 401.0L441.2 403.3" stroke="#000" stroke-width="1.15"/><path d="M438.2 406.8L440.0 402.3L442.3 404.3Z" fill="#000"/>
<path d="M456.9 401.0L452.8 407.1" stroke="#000" stroke-width="1.15"/><path d="M450.3 410.9L451.6 406.2L454.1 407.9Z" fill="#000"/>
<path d="M470.6 401.0L469.7 406.4" stroke="#000" stroke-width="1.15"/><path d="M469.0 410.9L468.3 406.1L471.2 406.6Z" fill="#000"/>
<path d="M484.4 401.0L486.9 403.5" stroke="#000" stroke-width="1.15"/><path d="M490.2 406.8L485.8 404.6L488.0 402.4Z" fill="#000"/>
<path d="M498.1 401.0L502.6 401.0" stroke="#000" stroke-width="1.15"/><path d="M507.2 401.0L502.6 402.5L502.6 399.5Z" fill="#000"/>
<path d="M511.8 401.0L515.5 401.3" stroke="#000" stroke-width="1.15"/><path d="M520.1 401.8L515.4 402.8L515.7 399.8Z" fill="#000"/>
<path d="M525.6 401.0L524.2 402.3" stroke="#000" stroke-width="1.15"/><path d="M522.3 404.3L523.2 401.2L525.3 403.4Z" fill="#000"/>
<path d="M539.3 401.0L536.7 401.0" stroke="#000" stroke-width="1.15"/><path d="M532.7 401.0L536.7 399.5L536.7 402.5Z" fill="#000"/>
<path d="M553.0 401.0L547.7 401.4" stroke="#000" stroke-width="1.15"/><path d="M543.1 401.8L547.6 399.9L547.8 402.9Z" fill="#000"/>
<path d="M566.8 401.0L561.1 403.3" stroke="#000" stroke-width="1.15"/><path d="M556.8 405.1L560.5 401.9L561.7 404.7Z" fill="#000"/>
<path d="M580.5 401.0L575.6 403.2" stroke="#000" stroke-width="1.15"/><path d="M571.4 405.1L575.0 401.8L576.2 404.6Z" fill="#000"/>
<path d="M594.2 401.0L590.1 403.0" stroke="#000" stroke-width="1.15"/><path d="M586.0 405.1L589.4 401.7L590.7 404.4Z" fill="#000"/>
<path d="M608.0 401.0L604.5 402.9" stroke="#000" stroke-width="1.15"/><path d="M600.5 405.1L603.8 401.6L605.3 404.2Z" fill="#000"/>
<path d="M621.7 401.0L619.0 402.7" stroke="#000" stroke-width="1.15"/><path d="M615.1 405.1L618.2 401.4L619.8 403.9Z" fill="#000"/>
<path d="M388.2 415.0L380.1 418.3" stroke="#000" stroke-width="1.15"/><path d="M375.8 420.0L379.5 416.9L380.7 419.7Z" fill="#000"/>
<path d="M402.0 415.0L395.1 419.2" stroke="#000" stroke-width="1.15"/><path d="M391.2 421.6L394.3 417.9L395.9 420.5Z" fill="#000"/>
<path d="M415.7 415.0L412.8 412.8" stroke="#000" stroke-width="1.15"/><path d="M409.1 410.1L413.7 411.6L411.9 414.0Z" fill="#000"/>
<path d="M429.4 415.0L426.5 414.4" stroke="#000" stroke-width="1.15"/><path d="M422.0 413.4L426.8 412.9L426.1 415.8Z" fill="#000"/>
<path d="M456.9 415.0L458.9 415.7" stroke="#000" stroke-width="1.15"/><path d="M461.9 416.7L458.4 417.1L459.4 414.3Z" fill="#000"/>
<path d="M470.6 415.0L474.4 415.8" stroke="#000" stroke-width="1.15"/><path d="M478.9 416.7L474.1 417.2L474.7 414.3Z" fill="#000"/>
<path d="M484.4 415.0L488.9 415.4" stroke="#000" stroke-width="1.15"/><path d="M493.5 415.8L488.7 416.9L489.0 413.9Z" fill="#000"/>
<path d="M498.1 415.0L509.2 415.6" stroke="#000" stroke-width="1.15"/><path d="M513.8 415.8L509.1 417.1L509.3 414.1Z" fill="#000"/>
<path d="M511.8 415.0L524.6 416.2" stroke="#000" stroke-width="1.15"/><path d="M529.2 416.7L524.5 417.7L524.8 414.7Z" fill="#000"/>
<path d="M525.6 415.0L538.5 418.1" stroke="#000" stroke-width="1.15"/><path d="M542.9 419.2L538.1 419.5L538.8 416.6Z" fill="#000"/>
<path d="M539.3 415.0L550.6 418.0" stroke="#000" stroke-width="1.15"/><path d="M555.0 419.2L550.2 419.4L550.9 416.5Z" fill="#000"/>
<path d="M553.0 415.0L561.4 419.5" stroke="#000" stroke-width="1.15"/><path d="M565.4 421.6L560.7 420.8L562.1 418.1Z" fill="#000"/>
<path d="M566.8 415.0L568.0 419.7" stroke="#000" stroke-width="1.15"/><path d="M569.2 424.1L566.6 420.1L569.5 419.3Z" fill="#000"/>
<path d="M580.5 415.0L580.8 417.0" stroke="#000" stroke-width="1.15"/><path d="M581.3 420.0L579.4 417.3L582.3 416.8Z" fill="#000"/>
<path d="M608.0 415.0L608.6 417.3" stroke="#000" stroke-width="1.15"/><path d="M609.6 420.8L607.2 417.7L610.1 416.9Z" fill="#000"/>
<path d="M374.5 429.1L370.8 429.1" stroke="#000" stroke-width="1.15"/><path d="M366.2 429.1L370.8 427.6L370.8 430.6Z" fill="#000"/>
<path d="M429.4 429.1L425.4 427.5" stroke="#000" stroke-width="1.15"/><path d="M421.2 425.8L426.0 426.1L424.9 428.9Z" fill="#000"/>
<path d="M443.2 429.1L440.5 428.1" stroke="#000" stroke-width="1.15"/><path d="M436.6 426.6L441.0 426.7L440.0 429.5Z" fill="#000"/>
<path d="M470.6 429.1L472.6 429.1" stroke="#000" stroke-width="1.15"/><path d="M475.6 429.1L472.6 430.6L472.6 427.6Z" fill="#000"/>
<path d="M484.4 429.1L488.9 429.1" stroke="#000" stroke-width="1.15"/><path d="M493.5 429.1L488.9 430.6L488.9 427.6Z" fill="#000"/>
<path d="M498.1 429.1L510.0 428.5" stroke="#000" stroke-width="1.15"/><path d="M514.6 428.2L510.1 430.0L510.0 427.0Z" fill="#000"/>
<path d="M511.8 429.1L528.7 428.4" stroke="#000" stroke-width="1.15"/><path d="M533.3 428.2L528.8 429.9L528.7 426.9Z" fill="#000"/>
<path d="M525.6 429.1L544.9 429.1" stroke="#000" stroke-width="1.15"/><path d="M549.5 429.1L544.9 430.6L544.9 427.6Z" fill="#000"/>
<path d="M539.3 429.1L560.4 432.5" stroke="#000" stroke-width="1.15"/><path d="M564.9 433.2L560.2 434.0L560.6 431.0Z" fill="#000"/>
<path d="M553.0 429.1L576.6 433.9" stroke="#000" stroke-width="1.15"/><path d="M581.2 434.9L576.3 435.4L576.9 432.5Z" fill="#000"/>
<path d="M566.8 429.1L592.0 433.3" stroke="#000" stroke-width="1.15"/><path d="M596.5 434.0L591.8 434.8L592.2 431.8Z" fill="#000"/>
<path d="M580.5 429.1L609.0 430.5" stroke="#000" stroke-width="1.15"/><path d="M613.6 430.7L608.9 432.0L609.1 429.0Z" fill="#000"/>
<path d="M594.2 429.1L616.1 427.7" stroke="#000" stroke-width="1.15"/><path d="M620.7 427.4L616.2 429.2L616.0 426.2Z" fill="#000"/>
<path d="M608.0 429.1L619.9 427.9" stroke="#000" stroke-width="1.15"/><path d="M624.5 427.4L620.1 429.4L619.8 426.4Z" fill="#000"/>
</g>
<rect x="364.2" y="330.7" width="257.5" height="105.4" fill="none" stroke="#000" stroke-width="1.7"/>
<path d="M415.7 436.1 v-2 M415.7 330.7 v2" stroke="#000" stroke-width="0.9"/>
<path d="M484.4 436.1 v-2 M484.4 330.7 v2" stroke="#000" stroke-width="0.9"/>
<path d="M553.0 436.1 v-2 M553.0 330.7 v2" stroke="#000" stroke-width="0.9"/>
<path d="M364.2 383.4 h2 M621.7 383.4 h-2" stroke="#000" stroke-width="0.9"/>
<text x="415.7" y="450.4" font-size="14.8" text-anchor="middle" fill="#111" >120°E</text>
<text x="484.4" y="450.4" font-size="14.8" text-anchor="middle" fill="#111" >140°E</text>
<text x="553.0" y="450.4" font-size="14.8" text-anchor="middle" fill="#111" >160°E</text>
<text x="619.7" y="450.4" font-size="14.8" text-anchor="middle" fill="#111" >180°</text>
<text x="359.6" y="336.2" font-size="14.8" text-anchor="end" fill="#111" >30°N</text>
<text x="359.6" y="388.9" font-size="14.8" text-anchor="end" fill="#111" >15°N</text>
<text x="356.0" y="441.6" font-size="14.8" text-anchor="end" fill="#111" >0°</text>
<text x="40.5" y="30.5" font-size="14.3" text-anchor="start" fill="#111" >JJA</text>
<text x="369.0" y="30.5" font-size="14.3" text-anchor="start" fill="#111" >SON</text>
<text x="37.9" y="10.8" font-size="15" text-anchor="start" fill="#111" font-weight="bold" >a.</text>
<text x="61.5" y="10.8" font-size="15.2" text-anchor="start" fill="#111" textLength="224.7" lengthAdjust="spacingAndGlyphs" >TC track &amp; Genesis density anomaly</text>
<text x="365.5" y="10.8" font-size="15" text-anchor="start" fill="#111" font-weight="bold" >b.</text>
<text x="389.5" y="10.8" font-size="15.2" text-anchor="start" fill="#111" textLength="224.7" lengthAdjust="spacingAndGlyphs" >TC track &amp; Genesis density anomaly</text>
<text x="38.2" y="324.2" font-size="15" text-anchor="start" fill="#111" font-weight="bold" >e.</text>
<text x="61.3" y="324.2" font-size="15.2" text-anchor="start" fill="#111" >Anomolous DGPI in JJA 2023</text>
<text x="367.0" y="324.2" font-size="15" text-anchor="start" fill="#111" font-weight="bold" >f.</text>
<text x="389.5" y="324.2" font-size="15.2" text-anchor="start" fill="#111" >Anomolous DGPI in SON 2023</text>
<path d="M40.0 337.6L58.3 337.6" stroke="#000" stroke-width="1.3"/><path d="M64.8 337.6L58.3 339.8L58.3 335.4Z" fill="#000"/>
<text x="40.6" y="351.4" font-size="14.3" text-anchor="start" fill="#111" >3m/s</text>
<path d="M367.8 337.6L386.1 337.6" stroke="#000" stroke-width="1.3"/><path d="M392.6 337.6L386.1 339.8L386.1 335.4Z" fill="#000"/>
<text x="368.4" y="351.4" font-size="14.3" text-anchor="start" fill="#111" >3m/s</text>
<rect x="642.9" y="23.60" width="12.9" height="5.81" fill="#a51d1d"/>
<rect x="642.9" y="29.11" width="12.9" height="5.81" fill="#cf2a27"/>
<rect x="642.9" y="34.62" width="12.9" height="5.81" fill="#e83a2c"/>
<rect x="642.9" y="40.13" width="12.9" height="5.81" fill="#ee6249"/>
<rect x="642.9" y="45.64" width="12.9" height="5.81" fill="#ef8c75"/>
<rect x="642.9" y="51.16" width="12.9" height="5.81" fill="#f3b5a9"/>
<rect x="642.9" y="56.67" width="12.9" height="5.81" fill="#f8d8d6"/>
<rect x="642.9" y="62.18" width="12.9" height="5.81" fill="#f9ebf0"/>
<rect x="642.9" y="67.69" width="12.9" height="5.81" fill="#ffffff"/>
<rect x="642.9" y="73.20" width="12.9" height="5.81" fill="#ffffff"/>
<rect x="642.9" y="78.71" width="12.9" height="5.81" fill="#e0fbfb"/>
<rect x="642.9" y="84.22" width="12.9" height="5.81" fill="#b8ecec"/>
<rect x="642.9" y="89.73" width="12.9" height="5.81" fill="#8dd0d4"/>
<rect x="642.9" y="95.24" width="12.9" height="5.81" fill="#6aa9c9"/>
<rect x="642.9" y="100.76" width="12.9" height="5.81" fill="#4c8dc4"/>
<rect x="642.9" y="106.27" width="12.9" height="5.81" fill="#3470b8"/>
<rect x="642.9" y="111.78" width="12.9" height="5.81" fill="#2655a0"/>
<rect x="642.9" y="117.29" width="12.9" height="5.81" fill="#1c3d7a"/>
<rect x="642.9" y="23.6" width="12.9" height="99.2" fill="none" stroke="#555" stroke-width="0.6"/>
<path d="M655.8 29.4 h-7" stroke="#111" stroke-width="0.9"/>
<text x="660.1" y="34.4" font-size="15.2" text-anchor="start" fill="#111" >0.4</text>
<path d="M655.8 51.6 h-7" stroke="#111" stroke-width="0.9"/>
<text x="660.1" y="56.6" font-size="15.2" text-anchor="start" fill="#111" >0.2</text>
<path d="M655.8 73.8 h-7" stroke="#111" stroke-width="0.9"/>
<text x="660.1" y="78.8" font-size="15.2" text-anchor="start" fill="#111" >0</text>
<path d="M655.8 95.8 h-7" stroke="#111" stroke-width="0.9"/>
<text x="660.1" y="100.8" font-size="15.2" text-anchor="start" fill="#111" >-0.2</text>
<path d="M655.8 117.6 h-7" stroke="#111" stroke-width="0.9"/>
<text x="660.1" y="122.6" font-size="15.2" text-anchor="start" fill="#111" >-0.4</text>
<rect x="643" y="336.00" width="12.9" height="5.83" fill="#a51d1d"/>
<rect x="643" y="341.53" width="12.9" height="5.83" fill="#cf2a27"/>
<rect x="643" y="347.07" width="12.9" height="5.83" fill="#e83a2c"/>
<rect x="643" y="352.60" width="12.9" height="5.83" fill="#ee6249"/>
<rect x="643" y="358.13" width="12.9" height="5.83" fill="#ef8c75"/>
<rect x="643" y="363.67" width="12.9" height="5.83" fill="#f3b5a9"/>
<rect x="643" y="369.20" width="12.9" height="5.83" fill="#f8d8d6"/>
<rect x="643" y="374.73" width="12.9" height="5.83" fill="#f9ebf0"/>
<rect x="643" y="380.27" width="12.9" height="5.83" fill="#ffffff"/>
<rect x="643" y="385.80" width="12.9" height="5.83" fill="#ffffff"/>
<rect x="643" y="391.33" width="12.9" height="5.83" fill="#e0fbfb"/>
<rect x="643" y="396.87" width="12.9" height="5.83" fill="#b8ecec"/>
<rect x="643" y="402.40" width="12.9" height="5.83" fill="#8dd0d4"/>
<rect x="643" y="407.93" width="12.9" height="5.83" fill="#6aa9c9"/>
<rect x="643" y="413.47" width="12.9" height="5.83" fill="#4c8dc4"/>
<rect x="643" y="419.00" width="12.9" height="5.83" fill="#3470b8"/>
<rect x="643" y="424.53" width="12.9" height="5.83" fill="#2655a0"/>
<rect x="643" y="430.07" width="12.9" height="5.83" fill="#1c3d7a"/>
<rect x="643" y="336" width="12.9" height="99.6" fill="none" stroke="#555" stroke-width="0.6"/>
<path d="M655.9 358.0 h-7" stroke="#111" stroke-width="0.9"/>
<text x="660.2" y="363.0" font-size="15.2" text-anchor="start" fill="#111" >5</text>
<path d="M655.9 386.1 h-7" stroke="#111" stroke-width="0.9"/>
<text x="660.2" y="391.1" font-size="15.2" text-anchor="start" fill="#111" >0</text>
<path d="M655.9 413.9 h-7" stroke="#111" stroke-width="0.9"/>
<text x="660.2" y="418.9" font-size="15.2" text-anchor="start" fill="#111" >-5</text>
<rect x="36.3" y="177.8" width="257.3" height="105.6" fill="#fff"/>
<rect x="41.9" y="228.6" width="5.0" height="2.0" fill="#5bf03c"/>
<rect x="53.1" y="210.8" width="5.0" height="19.8" fill="#5bf03c"/>
<rect x="58.7" y="230.6" width="5.0" height="6.6" fill="#5bf03c"/>
<rect x="64.3" y="224.0" width="5.0" height="6.6" fill="#5bf03c"/>
<rect x="69.8" y="217.4" width="5.0" height="13.2" fill="#5bf03c"/>
<rect x="75.4" y="224.0" width="5.0" height="6.6" fill="#5bf03c"/>
<rect x="81.0" y="224.0" width="5.0" height="6.6" fill="#5bf03c"/>
<rect x="86.6" y="230.6" width="5.0" height="13.2" fill="#5bf03c"/>
<rect x="92.2" y="204.2" width="5.0" height="26.4" fill="#5bf03c"/>
<rect x="97.8" y="217.4" width="5.0" height="13.2" fill="#5bf03c"/>
<rect x="103.4" y="224.0" width="5.0" height="6.6" fill="#5bf03c"/>
<rect x="109.0" y="224.0" width="5.0" height="6.6" fill="#5bf03c"/>
<rect x="114.6" y="204.2" width="5.0" height="26.4" fill="#5bf03c"/>
<rect x="125.8" y="230.6" width="5.0" height="13.2" fill="#5bf03c"/>
<rect x="136.9" y="217.4" width="5.0" height="13.2" fill="#5bf03c"/>
<rect x="142.5" y="230.6" width="5.0" height="26.4" fill="#5bf03c"/>
<rect x="148.1" y="230.6" width="5.0" height="26.4" fill="#5bf03c"/>
<rect x="159.3" y="210.8" width="5.0" height="19.8" fill="#5bf03c"/>
<rect x="164.9" y="210.8" width="5.0" height="19.8" fill="#5bf03c"/>
<rect x="176.1" y="210.8" width="5.0" height="19.8" fill="#5bf03c"/>
<rect x="181.7" y="224.0" width="5.0" height="6.6" fill="#5bf03c"/>
<rect x="192.8" y="230.6" width="5.0" height="13.2" fill="#5bf03c"/>
<rect x="198.4" y="230.6" width="5.0" height="13.2" fill="#5bf03c"/>
<rect x="204.0" y="230.6" width="5.0" height="13.2" fill="#5bf03c"/>
<rect x="209.6" y="230.6" width="5.0" height="19.8" fill="#5bf03c"/>
<rect x="226.4" y="224.0" width="5.0" height="6.6" fill="#5bf03c"/>
<rect x="232.0" y="230.6" width="5.0" height="6.6" fill="#5bf03c"/>
<rect x="237.6" y="230.6" width="5.0" height="6.6" fill="#5bf03c"/>
<rect x="243.1" y="224.0" width="5.0" height="6.6" fill="#5bf03c"/>
<rect x="248.7" y="230.6" width="5.0" height="13.2" fill="#5bf03c"/>
<rect x="254.3" y="184.4" width="5.0" height="46.2" fill="#5bf03c"/>
<rect x="259.9" y="224.0" width="5.0" height="6.6" fill="#5bf03c"/>
<rect x="265.5" y="230.6" width="5.0" height="19.8" fill="#5bf03c"/>
<rect x="271.1" y="230.6" width="5.0" height="33.0" fill="#5bf03c"/>
<rect x="276.7" y="230.6" width="5.0" height="19.8" fill="#5bf03c"/>
<rect x="282.3" y="224.0" width="5.0" height="6.6" fill="#e8532a"/>
<path d="M36.3 230.6H293.6" stroke="#222" stroke-width="1"/>
<path d="M44.4 218.3 L50.0 225.0 L55.6 245.1 L61.2 223.0 L66.8 235.0 L72.3 239.1 L77.9 248.7 L83.5 205.2 L89.1 215.9 L94.7 225.0 L100.3 230.6 L105.9 247.1 L111.5 246.1 L117.1 239.1 L122.7 250.2 L128.2 214.8 L133.8 226.2 L139.4 232.3 L145.0 208.7 L150.6 225.3 L156.2 238.2 L161.8 232.7 L167.4 240.5 L173.0 229.0 L178.6 228.1 L184.2 216.1 L189.7 226.2 L195.3 239.7 L200.9 225.3 L206.5 236.4 L212.1 199.5 L217.7 229.0 L223.3 238.4 L228.9 234.0 L234.5 246.7 L240.1 246.0 L245.6 238.4 L251.2 224.1 L256.8 258.1 L262.4 240.6 L268.0 228.5 L273.6 235.1 L279.2 236.2 L284.8 203.8" fill="none" stroke="#000" stroke-width="1.25" stroke-linejoin="round"/>
<path d="M44.4 232.0 L50.0 236.0 L55.6 219.9 L61.2 230.0 L66.8 240.7 L72.3 242.1 L77.9 230.6 L83.5 211.9 L89.1 254.1 L94.7 238.0 L100.3 229.0 L105.9 224.0 L111.5 228.0 L117.1 227.0 L122.7 227.2 L128.2 233.1 L133.8 234.5 L139.4 208.3 L145.0 240.1 L150.6 246.0 L156.2 239.2 L161.8 230.9 L167.4 222.0 L173.0 230.9 L178.6 225.7 L184.2 230.5 L189.7 229.4 L195.3 237.3 L200.9 234.5 L206.5 222.6 L212.1 245.6 L217.7 234.5 L223.3 225.2 L228.9 236.2 L234.5 227.9 L240.1 207.7 L245.6 234.0 L251.2 229.6 L256.8 228.5 L262.4 224.8 L268.0 234.0 L273.6 236.2 L279.2 242.8 L284.8 211.0" fill="none" stroke="#1414ff" stroke-width="1.25" stroke-linejoin="round"/>
<path d="M44.4 245.5 L50.0 239.1 L55.6 209.9 L61.2 203.8 L66.8 240.1 L72.3 243.5 L77.9 238.0 L83.5 213.9 L89.1 237.0 L94.7 246.1 L100.3 242.1 L105.9 215.9 L111.5 253.5 L117.1 229.0 L122.7 201.0 L128.2 236.4 L133.8 250.8 L139.4 218.9 L145.0 239.2 L150.6 229.0 L156.2 227.2 L161.8 233.6 L167.4 237.3 L173.0 223.8 L178.6 240.5 L184.2 241.9 L189.7 228.1 L195.3 226.8 L200.9 223.5 L206.5 234.5 L212.1 235.5 L217.7 225.3 L223.3 217.6 L228.9 244.9 L234.5 243.8 L240.1 222.0 L245.6 258.1 L251.2 217.6 L256.8 229.2 L262.4 211.7 L268.0 228.5 L273.6 239.5 L279.2 248.2 L284.8 209.9" fill="none" stroke="#d42020" stroke-width="1.25" stroke-linejoin="round"/>
<path d="M36.3 177.8H293.6" stroke="#000" stroke-width="1.6"/>
<path d="M36.3 177.10000000000002V284.15" stroke="#000" stroke-width="1.6"/>
<path d="M35.599999999999994 283.45H293.6" stroke="#000" stroke-width="1.6"/>
<path d="M293.6 177.10000000000002V284.15" stroke="#d9541e" stroke-width="1.6"/>
<path d="M44.4 283.45v-3.5" stroke="#000" stroke-width="1"/>
<text x="44.4" y="301.8" font-size="14.8" text-anchor="middle" fill="#111" >1980</text>
<path d="M100.3 283.45v-3.5" stroke="#000" stroke-width="1"/>
<text x="100.3" y="301.8" font-size="14.8" text-anchor="middle" fill="#111" >1990</text>
<path d="M156.2 283.45v-3.5" stroke="#000" stroke-width="1"/>
<text x="156.2" y="301.8" font-size="14.8" text-anchor="middle" fill="#111" >2000</text>
<path d="M212.1 283.45v-3.5" stroke="#000" stroke-width="1"/>
<text x="212.1" y="301.8" font-size="14.8" text-anchor="middle" fill="#111" >2010</text>
<path d="M268.0 283.45v-3.5" stroke="#000" stroke-width="1"/>
<text x="268.0" y="301.8" font-size="14.8" text-anchor="middle" fill="#111" >2020</text>
<path d="M36.3 177.8h3.5" stroke="#000" stroke-width="1"/>
<text x="30.9" y="182.8" font-size="14.8" text-anchor="end" fill="#111" >8</text>
<path d="M36.3 204.2h3.5" stroke="#000" stroke-width="1"/>
<text x="30.9" y="209.2" font-size="14.8" text-anchor="end" fill="#111" >4</text>
<path d="M36.3 230.6h3.5" stroke="#000" stroke-width="1"/>
<text x="30.9" y="235.6" font-size="14.8" text-anchor="end" fill="#111" >0</text>
<path d="M36.3 257.0h3.5" stroke="#000" stroke-width="1"/>
<text x="30.9" y="262.0" font-size="14.8" text-anchor="end" fill="#111" >-4</text>
<path d="M36.3 283.4h3.5" stroke="#000" stroke-width="1"/>
<text x="30.9" y="288.4" font-size="14.8" text-anchor="end" fill="#111" >-8</text>
<path d="M293.6 177.8h-4.5" stroke="#d9541e" stroke-width="1"/>
<text x="298.5" y="183.0" font-size="14.8" text-anchor="start" fill="#d9541e" >4</text>
<path d="M293.6 204.2h-4.5" stroke="#d9541e" stroke-width="1"/>
<text x="298.5" y="209.4" font-size="14.8" text-anchor="start" fill="#d9541e" >2</text>
<path d="M293.6 230.6h-4.5" stroke="#d9541e" stroke-width="1"/>
<text x="298.5" y="235.8" font-size="14.8" text-anchor="start" fill="#d9541e" >0</text>
<path d="M293.6 257.0h-4.5" stroke="#d9541e" stroke-width="1"/>
<text x="298.5" y="262.2" font-size="14.8" text-anchor="start" fill="#d9541e" >-2</text>
<path d="M293.6 283.4h-4.5" stroke="#d9541e" stroke-width="1"/>
<text x="298.5" y="288.6" font-size="14.8" text-anchor="start" fill="#d9541e" >-4</text>
<rect x="364.5" y="177.9" width="257.4" height="105.8" fill="#fff"/>
<rect x="370.5" y="227.5" width="5.0" height="3.3" fill="#5bf03c"/>
<rect x="376.1" y="230.8" width="5.0" height="3.3" fill="#5bf03c"/>
<rect x="381.7" y="230.8" width="5.0" height="3.3" fill="#5bf03c"/>
<rect x="387.3" y="230.8" width="5.0" height="9.9" fill="#5bf03c"/>
<rect x="392.9" y="214.3" width="5.0" height="16.5" fill="#5bf03c"/>
<rect x="398.4" y="230.8" width="5.0" height="16.5" fill="#5bf03c"/>
<rect x="404.0" y="220.9" width="5.0" height="9.9" fill="#5bf03c"/>
<rect x="409.6" y="230.8" width="5.0" height="9.9" fill="#5bf03c"/>
<rect x="415.2" y="214.3" width="5.0" height="16.5" fill="#5bf03c"/>
<rect x="420.8" y="220.9" width="5.0" height="9.9" fill="#5bf03c"/>
<rect x="426.4" y="227.5" width="5.0" height="3.3" fill="#5bf03c"/>
<rect x="432.0" y="214.3" width="5.0" height="16.5" fill="#5bf03c"/>
<rect x="437.6" y="227.5" width="5.0" height="3.3" fill="#5bf03c"/>
<rect x="443.2" y="201.0" width="5.0" height="29.8" fill="#5bf03c"/>
<rect x="448.8" y="220.9" width="5.0" height="9.9" fill="#5bf03c"/>
<rect x="454.4" y="214.3" width="5.0" height="16.5" fill="#5bf03c"/>
<rect x="459.9" y="214.3" width="5.0" height="16.5" fill="#5bf03c"/>
<rect x="465.5" y="230.8" width="5.0" height="16.5" fill="#5bf03c"/>
<rect x="471.1" y="230.8" width="5.0" height="3.3" fill="#5bf03c"/>
<rect x="476.7" y="230.8" width="5.0" height="23.1" fill="#5bf03c"/>
<rect x="482.3" y="230.8" width="5.0" height="3.3" fill="#5bf03c"/>
<rect x="487.9" y="220.9" width="5.0" height="9.9" fill="#5bf03c"/>
<rect x="493.5" y="230.8" width="5.0" height="23.1" fill="#5bf03c"/>
<rect x="499.1" y="220.9" width="5.0" height="9.9" fill="#5bf03c"/>
<rect x="504.7" y="227.5" width="5.0" height="3.3" fill="#5bf03c"/>
<rect x="510.2" y="230.8" width="5.0" height="3.3" fill="#5bf03c"/>
<rect x="515.8" y="220.9" width="5.0" height="9.9" fill="#5bf03c"/>
<rect x="521.4" y="220.9" width="5.0" height="9.9" fill="#5bf03c"/>
<rect x="527.0" y="230.8" width="5.0" height="16.5" fill="#5bf03c"/>
<rect x="532.6" y="214.3" width="5.0" height="16.5" fill="#5bf03c"/>
<rect x="538.2" y="230.8" width="5.0" height="23.1" fill="#5bf03c"/>
<rect x="543.8" y="230.8" width="5.0" height="16.5" fill="#5bf03c"/>
<rect x="549.4" y="230.8" width="5.0" height="3.3" fill="#5bf03c"/>
<rect x="555.0" y="207.7" width="5.0" height="23.1" fill="#5bf03c"/>
<rect x="560.6" y="230.8" width="5.0" height="9.9" fill="#5bf03c"/>
<rect x="566.1" y="230.8" width="5.0" height="16.5" fill="#5bf03c"/>
<rect x="571.7" y="214.3" width="5.0" height="16.5" fill="#5bf03c"/>
<rect x="577.3" y="230.8" width="5.0" height="23.1" fill="#5bf03c"/>
<rect x="582.9" y="230.8" width="5.0" height="9.9" fill="#5bf03c"/>
<rect x="588.5" y="207.7" width="5.0" height="23.1" fill="#5bf03c"/>
<rect x="594.1" y="227.5" width="5.0" height="3.3" fill="#5bf03c"/>
<rect x="599.7" y="230.8" width="5.0" height="3.3" fill="#5bf03c"/>
<rect x="605.3" y="214.3" width="5.0" height="16.5" fill="#5bf03c"/>
<rect x="610.9" y="230.8" width="5.0" height="36.4" fill="#e8532a"/>
<path d="M364.5 230.8H621.9" stroke="#222" stroke-width="1"/>
<path d="M373.0 227.8 L378.6 223.2 L384.2 248.5 L389.8 236.8 L395.4 241.3 L400.9 238.8 L406.5 245.9 L412.1 216.3 L417.7 235.8 L423.3 230.8 L428.9 219.7 L434.5 247.9 L440.1 246.5 L445.7 238.8 L451.3 241.9 L456.9 223.2 L462.4 235.2 L468.0 223.2 L473.6 218.0 L479.2 234.3 L484.8 242.5 L490.4 226.1 L496.0 235.5 L501.6 215.6 L507.2 219.1 L512.8 222.6 L518.3 218.0 L523.9 236.6 L529.5 225.7 L535.1 232.7 L540.7 215.6 L546.3 234.3 L551.9 223.8 L557.5 233.1 L563.1 237.8 L568.6 227.3 L574.2 230.3 L579.8 232.7 L585.4 240.1 L591.0 234.3 L596.6 233.1 L602.2 232.0 L607.8 236.6 L613.4 201.6" fill="none" stroke="#000" stroke-width="1.25" stroke-linejoin="round"/>
<path d="M373.0 232.8 L378.6 234.4 L384.2 208.7 L389.8 244.9 L395.4 243.9 L400.9 239.9 L406.5 218.7 L412.1 210.7 L417.7 260.0 L423.3 237.8 L428.9 228.8 L434.5 220.7 L440.1 234.8 L445.7 226.8 L451.3 219.7 L456.9 241.3 L462.4 235.8 L468.0 196.2 L473.6 246.7 L479.2 247.2 L484.8 237.8 L490.4 232.0 L496.0 214.0 L501.6 227.3 L507.2 221.9 L512.8 233.1 L518.3 219.1 L523.9 251.4 L529.5 232.0 L535.1 226.1 L540.7 255.3 L546.3 241.3 L551.9 225.0 L557.5 232.7 L563.1 221.5 L568.6 196.2 L574.2 239.0 L579.8 240.1 L585.4 220.3 L591.0 223.8 L596.6 244.8 L602.2 241.3 L607.8 244.8 L613.4 205.1" fill="none" stroke="#1414ff" stroke-width="1.25" stroke-linejoin="round"/>
<path d="M373.0 244.5 L378.6 243.9 L384.2 202.6 L389.8 232.8 L395.4 245.9 L400.9 232.8 L406.5 228.8 L412.1 215.7 L417.7 238.8 L423.3 237.8 L428.9 230.8 L434.5 222.8 L440.1 249.9 L445.7 228.8 L451.3 205.0 L456.9 240.9 L462.4 264.0 L468.0 187.5 L473.6 254.2 L479.2 233.6 L484.8 237.8 L490.4 240.1 L496.0 219.1 L501.6 235.5 L507.2 234.3 L512.8 246.0 L518.3 209.8 L523.9 226.1 L529.5 230.3 L535.1 233.1 L540.7 247.2 L546.3 220.3 L551.9 226.1 L557.5 236.6 L563.1 230.8 L568.6 218.0 L574.2 251.8 L579.8 233.1 L585.4 210.9 L591.0 198.6 L596.6 236.6 L602.2 239.0 L607.8 254.2 L613.4 200.4" fill="none" stroke="#d42020" stroke-width="1.25" stroke-linejoin="round"/>
<path d="M364.5 177.9H621.9" stroke="#000" stroke-width="1.6"/>
<path d="M364.5 177.20000000000002V284.4" stroke="#000" stroke-width="1.6"/>
<path d="M363.8 283.7H621.9" stroke="#000" stroke-width="1.6"/>
<path d="M621.9 177.20000000000002V284.4" stroke="#d9541e" stroke-width="1.6"/>
<path d="M373.0 283.7v-3.5" stroke="#000" stroke-width="1"/>
<text x="373.0" y="302.1" font-size="14.8" text-anchor="middle" fill="#111" >1980</text>
<path d="M428.9 283.7v-3.5" stroke="#000" stroke-width="1"/>
<text x="428.9" y="302.1" font-size="14.8" text-anchor="middle" fill="#111" >1990</text>
<path d="M484.8 283.7v-3.5" stroke="#000" stroke-width="1"/>
<text x="484.8" y="302.1" font-size="14.8" text-anchor="middle" fill="#111" >2000</text>
<path d="M540.7 283.7v-3.5" stroke="#000" stroke-width="1"/>
<text x="540.7" y="302.1" font-size="14.8" text-anchor="middle" fill="#111" >2010</text>
<path d="M596.6 283.7v-3.5" stroke="#000" stroke-width="1"/>
<text x="596.6" y="302.1" font-size="14.8" text-anchor="middle" fill="#111" >2020</text>
<path d="M364.5 177.9h3.5" stroke="#000" stroke-width="1"/>
<text x="359.1" y="182.9" font-size="14.8" text-anchor="end" fill="#111" >8</text>
<path d="M364.5 204.4h3.5" stroke="#000" stroke-width="1"/>
<text x="359.1" y="209.4" font-size="14.8" text-anchor="end" fill="#111" >4</text>
<path d="M364.5 230.8h3.5" stroke="#000" stroke-width="1"/>
<text x="359.1" y="235.8" font-size="14.8" text-anchor="end" fill="#111" >0</text>
<path d="M364.5 257.2h3.5" stroke="#000" stroke-width="1"/>
<text x="359.1" y="262.2" font-size="14.8" text-anchor="end" fill="#111" >-4</text>
<path d="M364.5 283.7h3.5" stroke="#000" stroke-width="1"/>
<text x="359.1" y="288.7" font-size="14.8" text-anchor="end" fill="#111" >-8</text>
<path d="M621.9 177.9h-4.5" stroke="#d9541e" stroke-width="1"/>
<text x="626.8" y="183.1" font-size="14.8" text-anchor="start" fill="#d9541e" >4</text>
<path d="M621.9 204.4h-4.5" stroke="#d9541e" stroke-width="1"/>
<text x="626.8" y="209.6" font-size="14.8" text-anchor="start" fill="#d9541e" >2</text>
<path d="M621.9 230.8h-4.5" stroke="#d9541e" stroke-width="1"/>
<text x="626.8" y="236.0" font-size="14.8" text-anchor="start" fill="#d9541e" >0</text>
<path d="M621.9 257.2h-4.5" stroke="#d9541e" stroke-width="1"/>
<text x="626.8" y="262.4" font-size="14.8" text-anchor="start" fill="#d9541e" >-2</text>
<path d="M621.9 283.7h-4.5" stroke="#d9541e" stroke-width="1"/>
<text x="626.8" y="288.9" font-size="14.8" text-anchor="start" fill="#d9541e" >-4</text>
<text x="41.7" y="172.6" font-size="15" text-anchor="start" fill="#111" font-weight="bold" >c.</text>
<text x="66.9" y="172.9" font-size="15.2" text-anchor="start" fill="#111" textLength="157" lengthAdjust="spacingAndGlyphs" >TCGF ano &amp; SST indices</text>
<text x="369.7" y="172.6" font-size="15" text-anchor="start" fill="#111" font-weight="bold" >d.</text>
<text x="41.5" y="192.2" font-size="14.3" text-anchor="start" fill="#111" >JJA</text>
<text x="370.5" y="192.3" font-size="14.3" text-anchor="start" fill="#111" >SON</text>
<text transform="translate(13.1,230.9) rotate(-90)" font-size="16.4" text-anchor="middle" fill="#111">TCGF ano</text>
<text transform="translate(655.6,230.5) rotate(-90)" font-size="15" text-anchor="middle" fill="#d9541e">SST Index</text>
<rect x="467.2" y="144.9" width="25.9" height="11.6" fill="#55ee33"/>
<text x="496.4" y="155.2" font-size="13.2" text-anchor="start" fill="#111" textLength="32.6" lengthAdjust="spacingAndGlyphs" >TCGF</text>
<path d="M537.2 150.7 H562" stroke="#d62222" stroke-width="1.1"/>
<text x="565.0" y="155.2" font-size="13.2" text-anchor="start" fill="#111" >DMI</text>
<path d="M467.2 168.2 H492.6" stroke="#000" stroke-width="1.1"/>
<text x="496.4" y="172.7" font-size="13.2" text-anchor="start" fill="#111" >TNA</text>
<path d="M537.2 168.2 H562" stroke="#1a1aff" stroke-width="1.1"/>
<text x="565.0" y="172.7" font-size="13.2" text-anchor="start" fill="#111" textLength="47.3" lengthAdjust="spacingAndGlyphs" >Niño 3.4</text>
<path d="M141.3 529.7H513.8" stroke="#cacaca" stroke-width="1.6"/>
<rect x="179.9" y="522.1" width="12.8" height="7.6" fill="#3a7fc9" stroke="#333" stroke-width="0.5"/>
<rect x="195.3" y="529.7" width="12.8" height="37.9" fill="#d95325" stroke="#333" stroke-width="0.5"/>
<path d="M193.9 576.3v-3.5 M193.9 482.8v3.5" stroke="#222" stroke-width="1"/>
<text x="193.9" y="593.9" font-size="15" text-anchor="middle" fill="#111" >DGPI'</text>
<rect x="233.2" y="521.3" width="12.8" height="8.4" fill="#3a7fc9" stroke="#333" stroke-width="0.5"/>
<rect x="248.6" y="529.7" width="12.8" height="24.1" fill="#d95325" stroke="#333" stroke-width="0.5"/>
<path d="M247.2 576.3v-3.5 M247.2 482.8v3.5" stroke="#222" stroke-width="1"/>
<text x="247.2" y="593.9" font-size="15" text-anchor="middle" fill="#111" >Sum'</text>
<rect x="286.4" y="529.7" width="12.8" height="16.2" fill="#3a7fc9" stroke="#333" stroke-width="0.5"/>
<rect x="301.8" y="529.7" width="12.8" height="2.0" fill="#d95325" stroke="#333" stroke-width="0.5"/>
<path d="M300.4 576.3v-3.5 M300.4 482.8v3.5" stroke="#222" stroke-width="1"/>
<text x="300.4" y="593.9" font-size="15" text-anchor="middle" fill="#111" >VWS'</text>
<rect x="339.7" y="521.3" width="12.8" height="8.4" fill="#3a7fc9" stroke="#333" stroke-width="0.5"/>
<rect x="355.1" y="529.7" width="12.8" height="3.5" fill="#d95325" stroke="#333" stroke-width="0.5"/>
<path d="M353.7 576.3v-3.5 M353.7 482.8v3.5" stroke="#222" stroke-width="1"/>
<text x="353.7" y="593.9" font-size="15" text-anchor="middle" fill="#111" >dUdY'</text>
<rect x="392.9" y="518.6" width="12.8" height="11.1" fill="#3a7fc9" stroke="#333" stroke-width="0.5"/>
<rect x="408.3" y="529.7" width="12.8" height="17.8" fill="#d95325" stroke="#333" stroke-width="0.5"/>
<path d="M406.9 576.3v-3.5 M406.9 482.8v3.5" stroke="#222" stroke-width="1"/>
<text x="406.9" y="593.9" font-size="15" text-anchor="middle" fill="#111" >W'</text>
<rect x="446.2" y="526.0" width="12.8" height="3.7" fill="#3a7fc9" stroke="#333" stroke-width="0.5"/>
<rect x="461.6" y="529.7" width="12.8" height="1.7" fill="#d95325" stroke="#333" stroke-width="0.5"/>
<path d="M460.2 576.3v-3.5 M460.2 482.8v3.5" stroke="#222" stroke-width="1"/>
<text x="460.2" y="593.9" font-size="15" text-anchor="middle" fill="#111" >Vort'</text>
<rect x="141.3" y="482.8" width="372.5" height="93.5" fill="none" stroke="#222" stroke-width="1.45"/>
<path d="M141.3 492.6h3.5 M513.8 492.6h-3.5" stroke="#222" stroke-width="1"/>
<text x="136.0" y="497.6" font-size="15" text-anchor="end" fill="#111" >20</text>
<path d="M141.3 511.1h3.5 M513.8 511.1h-3.5" stroke="#222" stroke-width="1"/>
<text x="136.0" y="516.1" font-size="15" text-anchor="end" fill="#111" >10</text>
<path d="M141.3 529.7h3.5 M513.8 529.7h-3.5" stroke="#222" stroke-width="1"/>
<text x="136.0" y="534.7" font-size="15" text-anchor="end" fill="#111" >0</text>
<path d="M141.3 548.3h3.5 M513.8 548.3h-3.5" stroke="#222" stroke-width="1"/>
<text x="136.0" y="553.3" font-size="15" text-anchor="end" fill="#111" >-10</text>
<path d="M141.3 566.8h3.5 M513.8 566.8h-3.5" stroke="#222" stroke-width="1"/>
<text x="136.0" y="571.8" font-size="15" text-anchor="end" fill="#111" >-20</text>
<rect x="389" y="487.3" width="117.4" height="17.5" fill="#fff" stroke="#222" stroke-width="0.8"/>
<rect x="392.5" y="490.8" width="24.9" height="11.2" fill="#3a7fc9" stroke="#333" stroke-width="0.5"/>
<text x="420.6" y="501.3" font-size="13.2" text-anchor="start" fill="#111" >JJA</text>
<rect x="447.9" y="490.8" width="25.2" height="11.2" fill="#d95325" stroke="#333" stroke-width="0.5"/>
<text x="476.6" y="501.3" font-size="13.2" text-anchor="start" fill="#111" >SON</text>
<text x="141.3" y="475.8" font-size="15" text-anchor="start" fill="#111" font-weight="bold" >g.</text>
<text x="179.9" y="478.3" font-size="16.8" text-anchor="start" fill="#111" textLength="294.3" lengthAdjust="spacingAndGlyphs" >Quantitative contributions to DGPI changes</text>
</g></svg></body></html>
